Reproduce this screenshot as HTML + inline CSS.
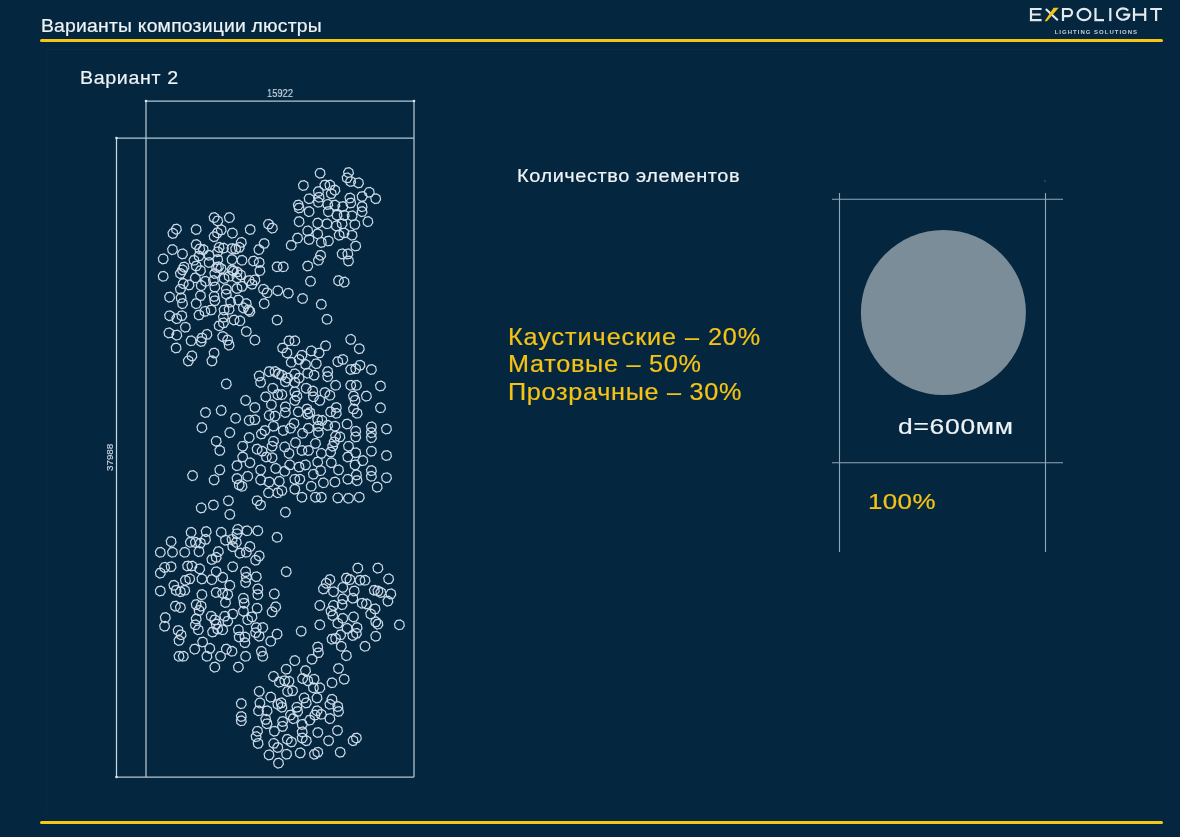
<!DOCTYPE html>
<html><head><meta charset="utf-8">
<style>
html,body{margin:0;padding:0;}
body{width:1180px;height:837px;background:#04263f;position:relative;overflow:hidden;font-family:"Liberation Sans",sans-serif;}
.t{position:absolute;white-space:nowrap;line-height:1;transform-origin:0 0;-webkit-text-stroke:0.2px currentColor;will-change:transform;}
.yl{position:absolute;background:#f5c815;height:3px;border-radius:1.5px;}
svg{position:absolute;left:0;top:0;}
</style></head>
<body>
<div class="yl" style="left:40px;top:38.5px;width:1123px;"></div>
<div class="yl" style="left:40px;top:820.5px;width:1123px;"></div>
<div style="position:absolute;left:46px;top:49px;width:1081px;height:763px;border:1px solid #092b45;border-right-color:#06283f;border-bottom:none;"></div>
<div class="t" id="title" style="left:41.16px;top:16.91px;font-size:18.3px;color:#eef3f6;font-weight:normal;letter-spacing:0.186px;transform:scaleX(1.0600);">Варианты композиции люстры</div>
<div class="t" id="var" style="left:80.33px;top:69.24px;font-size:18.5px;color:#eef3f6;font-weight:normal;letter-spacing:0.618px;transform:scaleX(1.0600);">Вариант 2</div>
<div class="t" id="kol" style="left:516.94px;top:166.59px;font-size:18.8px;color:#eef3f6;font-weight:normal;letter-spacing:0.562px;transform:scaleX(1.0600);">Количество элементов</div>
<div class="t" id="y1" style="left:507.96px;top:324.85px;font-size:23.8px;color:#f5c316;font-weight:normal;letter-spacing:0.873px;transform:scaleX(1.0600);">Каустические – 20%</div>
<div class="t" id="y2" style="left:507.96px;top:352.35px;font-size:23.8px;color:#f5c316;font-weight:normal;letter-spacing:0.687px;transform:scaleX(1.0600);">Матовые – 50%</div>
<div class="t" id="y3" style="left:507.96px;top:379.85px;font-size:23.8px;color:#f5c316;font-weight:normal;letter-spacing:0.674px;transform:scaleX(1.0600);">Прозрачные – 30%</div>
<div class="t" id="d600" style="left:897.52px;top:415.00px;font-size:22.8px;color:#eef3f6;font-weight:normal;letter-spacing:0.621px;transform:scaleX(1.1600);">d=600мм</div>
<div class="t" id="p100" style="left:867.86px;top:489.90px;font-size:22.8px;color:#f5c316;font-weight:normal;letter-spacing:0.298px;transform:scaleX(1.1400);">100%</div>
<div class="t" id="dim1" style="left:266.72px;top:87.73px;font-size:11.3px;color:#c5d3de;font-weight:normal;letter-spacing:0.000px;transform:scaleX(0.8259);">15922</div>
<svg class="logo" width="1180" height="40" viewBox="0 0 1180 40" style="z-index:2">
 <g stroke="#e2e8ee" stroke-width="2.2" fill="none" stroke-linecap="butt">
  <path d="M1041.6 9H1031V20.1H1041.6M1031 14.5H1040.6"/>
  <path d="M1045.8 9L1057.8 20.3"/>
  <path d="M1063 21.1V9H1068.4A3.65 3.6 0 0 1 1068.4 16.2H1063"/>
  <ellipse cx="1084" cy="14.55" rx="6.45" ry="5.6"/>
  <path d="M1095.5 8V20.1H1104"/>
  <path d="M1110.3 8V21.1"/>
  <path d="M1128.2 10.6A6.3 5.7 0 1 0 1129.2 15.6V14.6H1123.2"/>
  <path d="M1134 8V21.1M1145.2 8V21.1M1134 14.6H1145.2"/>
  <path d="M1150.2 9H1162M1156.1 9V21.1"/>
 </g>
 <path d="M1044.6 21.2L1053.6 7.8H1058.8L1046.9 21.2Z" fill="#f0c419"/>
 <text x="1054.7" y="34.2" font-family="Liberation Sans" font-weight="bold" font-size="6" fill="#c5d0da" textLength="82.4" lengthAdjust="spacing">LIGHTING SOLUTIONS</text>
</svg>
<div class="t logo" id="dim2" style="left:104.6px;top:471.3px;font-size:9.8px;color:#c5d3de;transform:rotate(-90deg);">37988</div>
<svg class="logo" width="1180" height="837" viewBox="0 0 1180 837" style="z-index:0">
 <g stroke="#b4c6d0" stroke-width="1.25" fill="none">
  <path d="M146 101H414M146 101V777M414 101V777M116.5 138H414M116.5 777H414"/>
  <path d="M116.5 138V777" stroke="#c8d8e2"/>
 </g>
 <g fill="#d8e4ec"><circle cx="116.5" cy="138" r="1.3"/><circle cx="116.5" cy="777" r="1.3"/><circle cx="146" cy="101" r="1.3"/><circle cx="414" cy="101" r="1.3"/></g>
 <g stroke="#93a8b6" stroke-width="1.1" fill="none">
  <path d="M832 199.3H1063M832 462.8H1063M839.5 193V552M1045.5 193V552"/>
 </g>
 <circle cx="943.4" cy="312.5" r="82.5" fill="#7b8d99"/>
 <circle cx="1045" cy="181" r="0.6" fill="#8fa6b8"/>
 <g stroke="#cbdae6" stroke-width="1.2" fill="none">
<path d="M219.0 218.6L216.9 221.8L213.1 222.5L209.9 220.4L209.2 216.6L211.3 213.4L215.1 212.7L218.3 214.8ZM222.6 221.9L220.5 225.1L216.7 225.8L213.5 223.7L212.8 219.9L214.9 216.7L218.7 216.0L221.9 218.1ZM234.3 218.6L232.2 221.8L228.4 222.5L225.2 220.4L224.5 216.6L226.6 213.4L230.4 212.7L233.6 214.8ZM181.3 230.1L179.2 233.3L175.4 234.0L172.2 231.9L171.5 228.1L173.6 224.9L177.4 224.2L180.6 226.3ZM177.8 234.4L175.7 237.6L171.9 238.3L168.7 236.2L168.0 232.4L170.1 229.2L173.9 228.5L177.1 230.6ZM201.1 230.5L199.0 233.7L195.2 234.4L192.0 232.3L191.3 228.5L193.4 225.3L197.2 224.6L200.4 226.7ZM226.1 230.9L224.0 234.1L220.2 234.8L217.0 232.7L216.3 228.9L218.4 225.7L222.2 225.0L225.4 227.1ZM222.3 233.8L220.2 237.0L216.4 237.7L213.2 235.6L212.5 231.8L214.6 228.6L218.4 227.9L221.6 230.0ZM219.0 237.7L216.9 240.9L213.1 241.6L209.9 239.5L209.2 235.7L211.3 232.5L215.1 231.8L218.3 233.9ZM237.3 234.1L235.2 237.3L231.4 238.0L228.2 235.9L227.5 232.1L229.6 228.9L233.4 228.2L236.6 230.3ZM255.1 230.5L253.0 233.7L249.2 234.4L246.0 232.3L245.3 228.5L247.4 225.3L251.2 224.6L254.4 226.7ZM273.4 225.2L271.3 228.4L267.5 229.1L264.3 227.0L263.6 223.2L265.7 220.0L269.5 219.3L272.7 221.4ZM277.3 229.1L275.2 232.3L271.4 233.0L268.2 230.9L267.5 227.1L269.6 223.9L273.4 223.2L276.6 225.3ZM269.1 244.5L267.0 247.7L263.2 248.4L260.0 246.3L259.3 242.5L261.4 239.3L265.2 238.6L268.4 240.7ZM263.8 250.6L261.7 253.8L257.9 254.5L254.7 252.4L254.0 248.6L256.1 245.4L259.9 244.7L263.1 246.8ZM246.2 243.4L244.1 246.6L240.3 247.3L237.1 245.2L236.4 241.4L238.5 238.2L242.3 237.5L245.5 239.6ZM244.1 248.4L242.0 251.6L238.2 252.3L235.0 250.2L234.3 246.4L236.4 243.2L240.2 242.5L243.4 244.6ZM177.4 250.6L175.3 253.8L171.5 254.5L168.3 252.4L167.6 248.6L169.7 245.4L173.5 244.7L176.7 246.8ZM187.4 254.9L185.3 258.1L181.5 258.8L178.3 256.7L177.6 252.9L179.7 249.7L183.5 249.0L186.7 251.1ZM168.1 259.9L166.0 263.1L162.2 263.8L159.0 261.7L158.3 257.9L160.4 254.7L164.2 254.0L167.4 256.1ZM201.1 245.6L199.0 248.8L195.2 249.5L192.0 247.4L191.3 243.6L193.4 240.4L197.2 239.7L200.4 241.8ZM204.6 249.9L202.5 253.1L198.7 253.8L195.5 251.7L194.8 247.9L196.9 244.7L200.7 244.0L203.9 246.1ZM208.2 250.6L206.1 253.8L202.3 254.5L199.1 252.4L198.4 248.6L200.5 245.4L204.3 244.7L207.5 246.8ZM224.0 248.4L221.9 251.6L218.1 252.3L214.9 250.2L214.2 246.4L216.3 243.2L220.1 242.5L223.3 244.6ZM228.3 249.1L226.2 252.3L222.4 253.0L219.2 250.9L218.5 247.1L220.6 243.9L224.4 243.2L227.6 245.3ZM236.9 249.6L234.8 252.8L231.0 253.5L227.8 251.4L227.1 247.6L229.2 244.4L233.0 243.7L236.2 245.8ZM240.5 249.9L238.4 253.1L234.6 253.8L231.4 251.7L230.7 247.9L232.8 244.7L236.6 244.0L239.8 246.1ZM222.6 252.7L220.5 255.9L216.7 256.6L213.5 254.5L212.8 250.7L214.9 247.5L218.7 246.8L221.9 248.9ZM214.0 256.3L211.9 259.5L208.1 260.2L204.9 258.1L204.2 254.3L206.3 251.1L210.1 250.4L213.3 252.5ZM203.9 257.0L201.8 260.2L198.0 260.9L194.8 258.8L194.1 255.0L196.2 251.8L200.0 251.1L203.2 253.2ZM198.9 261.3L196.8 264.5L193.0 265.2L189.8 263.1L189.1 259.3L191.2 256.1L195.0 255.4L198.2 257.5ZM214.0 263.5L211.9 266.7L208.1 267.4L204.9 265.3L204.2 261.5L206.3 258.3L210.1 257.6L213.3 259.7ZM222.6 260.6L220.5 263.8L216.7 264.5L213.5 262.4L212.8 258.6L214.9 255.4L218.7 254.7L221.9 256.8ZM236.9 260.6L234.8 263.8L231.0 264.5L227.8 262.4L227.1 258.6L229.2 255.4L233.0 254.7L236.2 256.8ZM246.9 261.3L244.8 264.5L241.0 265.2L237.8 263.1L237.1 259.3L239.2 256.1L243.0 255.4L246.2 257.5ZM258.4 262.0L256.3 265.2L252.5 265.9L249.3 263.8L248.6 260.0L250.7 256.8L254.5 256.1L257.7 258.2ZM264.1 263.5L262.0 266.7L258.2 267.4L255.0 265.3L254.3 261.5L256.4 258.3L260.2 257.6L263.4 259.7ZM188.9 268.0L186.8 271.2L183.0 271.9L179.8 269.8L179.1 266.0L181.2 262.8L185.0 262.1L188.2 264.2ZM201.1 267.0L199.0 270.2L195.2 270.9L192.0 268.8L191.3 265.0L193.4 261.8L197.2 261.1L200.4 263.2ZM223.3 267.8L221.2 271.0L217.4 271.7L214.2 269.6L213.5 265.8L215.6 262.6L219.4 261.9L222.6 264.0ZM335.9 612.0L333.8 615.2L330.0 615.9L326.8 613.8L326.1 610.0L328.2 606.8L332.0 606.1L335.2 608.2ZM337.6 616.5L335.5 619.7L331.7 620.4L328.5 618.3L327.8 614.5L329.9 611.3L333.7 610.6L336.9 612.7ZM347.7 619.3L345.6 622.5L341.8 623.2L338.6 621.1L337.9 617.3L340.0 614.1L343.8 613.4L347.0 615.5ZM358.4 617.9L356.3 621.1L352.5 621.8L349.3 619.7L348.6 615.9L350.7 612.7L354.5 612.0L357.7 614.1ZM375.6 615.0L373.5 618.2L369.7 618.9L366.5 616.8L365.8 613.0L367.9 609.8L371.7 609.1L374.9 611.2ZM380.6 622.9L378.5 626.1L374.7 626.8L371.5 624.7L370.8 620.9L372.9 617.7L376.7 617.0L379.9 619.1ZM382.8 625.1L380.7 628.3L376.9 629.0L373.7 626.9L373.0 623.1L375.1 619.9L378.9 619.2L382.1 621.3ZM404.3 625.8L402.2 629.0L398.4 629.7L395.2 627.6L394.5 623.8L396.6 620.6L400.4 619.9L403.6 622.0ZM324.7 625.8L322.6 629.0L318.8 629.7L315.6 627.6L314.9 623.8L317.0 620.6L320.8 619.9L324.0 622.0ZM342.7 624.3L340.6 627.5L336.8 628.2L333.6 626.1L332.9 622.3L335.0 619.1L338.8 618.4L342.0 620.5ZM306.1 632.2L304.0 635.4L300.2 636.1L297.0 634.0L296.3 630.2L298.4 627.0L302.2 626.3L305.4 628.4ZM352.0 629.4L349.9 632.6L346.1 633.3L342.9 631.2L342.2 627.4L344.3 624.2L348.1 623.5L351.3 625.6ZM362.0 628.6L359.9 631.8L356.1 632.5L352.9 630.4L352.2 626.6L354.3 623.4L358.1 622.7L361.3 624.8ZM361.3 634.4L359.2 637.6L355.4 638.3L352.2 636.2L351.5 632.4L353.6 629.2L357.4 628.5L360.6 630.6ZM357.7 636.5L355.6 639.7L351.8 640.4L348.6 638.3L347.9 634.5L350.0 631.3L353.8 630.6L357.0 632.7ZM345.5 635.8L343.4 639.0L339.6 639.7L336.4 637.6L335.7 633.8L337.8 630.6L341.6 629.9L344.8 632.0ZM336.9 640.1L334.8 643.3L331.0 644.0L327.8 641.9L327.1 638.1L329.2 634.9L333.0 634.2L336.2 636.3ZM340.5 639.4L338.4 642.6L334.6 643.3L331.4 641.2L330.7 637.4L332.8 634.2L336.6 633.5L339.8 635.6ZM380.6 637.2L378.5 640.4L374.7 641.1L371.5 639.0L370.8 635.2L372.9 632.0L376.7 631.3L379.9 633.4ZM369.9 647.3L367.8 650.5L364.0 651.2L360.8 649.1L360.1 645.3L362.2 642.1L366.0 641.4L369.2 643.5ZM346.2 647.3L344.1 650.5L340.3 651.2L337.1 649.1L336.4 645.3L338.5 642.1L342.3 641.4L345.5 643.5ZM322.6 648.0L320.5 651.2L316.7 651.9L313.5 649.8L312.8 646.0L314.9 642.8L318.7 642.1L321.9 644.2ZM323.3 653.7L321.2 656.9L317.4 657.6L314.2 655.5L313.5 651.7L315.6 648.5L319.4 647.8L322.6 649.9ZM316.9 660.2L314.8 663.4L311.0 664.1L307.8 662.0L307.1 658.2L309.2 655.0L313.0 654.3L316.2 656.4ZM351.3 656.6L349.2 659.8L345.4 660.5L342.2 658.4L341.5 654.6L343.6 651.4L347.4 650.7L350.6 652.8ZM299.7 661.6L297.6 664.8L293.8 665.5L290.6 663.4L289.9 659.6L292.0 656.4L295.8 655.7L299.0 657.8ZM291.1 670.2L289.0 673.4L285.2 674.1L282.0 672.0L281.3 668.2L283.4 665.0L287.2 664.3L290.4 666.4ZM310.4 671.6L308.3 674.8L304.5 675.5L301.3 673.4L300.6 669.6L302.7 666.4L306.5 665.7L309.7 667.8ZM343.4 669.5L341.3 672.7L337.5 673.4L334.3 671.3L333.6 667.5L335.7 664.3L339.5 663.6L342.7 665.7ZM349.1 680.2L347.0 683.4L343.2 684.1L340.0 682.0L339.3 678.2L341.4 675.0L345.2 674.3L348.4 676.4ZM336.9 683.8L334.8 687.0L331.0 687.7L327.8 685.6L327.1 681.8L329.2 678.6L333.0 677.9L336.2 680.0ZM289.6 681.7L287.5 684.9L283.7 685.6L280.5 683.5L279.8 679.7L281.9 676.5L285.7 675.8L288.9 677.9ZM293.9 682.4L291.8 685.6L288.0 686.3L284.8 684.2L284.1 680.4L286.2 677.2L290.0 676.5L293.2 678.6ZM307.5 679.5L305.4 682.7L301.6 683.4L298.4 681.3L297.7 677.5L299.8 674.3L303.6 673.6L306.8 675.7ZM312.6 681.7L310.5 684.9L306.7 685.6L303.5 683.5L302.8 679.7L304.9 676.5L308.7 675.8L311.9 677.9ZM319.0 680.2L316.9 683.4L313.1 684.1L309.9 682.0L309.2 678.2L311.3 675.0L315.1 674.3L318.3 676.4ZM318.3 688.8L316.2 692.0L312.4 692.7L309.2 690.6L308.5 686.8L310.6 683.6L314.4 682.9L317.6 685.0ZM324.7 688.8L322.6 692.0L318.8 692.7L315.6 690.6L314.9 686.8L317.0 683.6L320.8 682.9L324.0 685.0ZM292.5 692.4L290.4 695.6L286.6 696.3L283.4 694.2L282.7 690.4L284.8 687.2L288.6 686.5L291.8 688.6ZM297.5 691.7L295.4 694.9L291.6 695.6L288.4 693.5L287.7 689.7L289.8 686.5L293.6 685.8L296.8 687.9ZM309.0 698.9L306.9 702.1L303.1 702.8L299.9 700.7L299.2 696.9L301.3 693.7L305.1 693.0L308.3 695.1ZM311.1 703.9L309.0 707.1L305.2 707.8L302.0 705.7L301.3 701.9L303.4 698.7L307.2 698.0L310.4 700.1ZM321.9 698.9L319.8 702.1L316.0 702.8L312.8 700.7L312.1 696.9L314.2 693.7L318.0 693.0L321.2 695.1ZM336.9 700.3L334.8 703.5L331.0 704.2L327.8 702.1L327.1 698.3L329.2 695.1L333.0 694.4L336.2 696.5ZM334.8 705.3L332.7 708.5L328.9 709.2L325.7 707.1L325.0 703.3L327.1 700.1L330.9 699.4L334.1 701.5ZM342.7 707.5L340.6 710.7L336.8 711.4L333.6 709.3L332.9 705.5L335.0 702.3L338.8 701.6L342.0 703.7ZM343.4 712.5L341.3 715.7L337.5 716.4L334.3 714.3L333.6 710.5L335.7 707.3L339.5 706.6L342.7 708.7ZM286.0 703.9L283.9 707.1L280.1 707.8L276.9 705.7L276.2 701.9L278.3 698.7L282.1 698.0L285.3 700.1ZM286.8 708.2L284.7 711.4L280.9 712.1L277.7 710.0L277.0 706.2L279.1 703.0L282.9 702.3L286.1 704.4ZM301.8 708.2L299.7 711.4L295.9 712.1L292.7 710.0L292.0 706.2L294.1 703.0L297.9 702.3L301.1 704.4ZM302.5 712.5L300.4 715.7L296.6 716.4L293.4 714.3L292.7 710.5L294.8 707.3L298.6 706.6L301.8 708.7ZM321.9 711.8L319.8 715.0L316.0 715.7L312.8 713.6L312.1 709.8L314.2 706.6L318.0 705.9L321.2 708.0ZM326.2 715.3L324.1 718.5L320.3 719.2L317.1 717.1L316.4 713.3L318.5 710.1L322.3 709.4L325.5 711.5ZM319.7 716.1L317.6 719.3L313.8 720.0L310.6 717.9L309.9 714.1L312.0 710.9L315.8 710.2L319.0 712.3ZM295.4 716.1L293.3 719.3L289.5 720.0L286.3 717.9L285.6 714.1L287.7 710.9L291.5 710.2L294.7 712.3ZM298.2 719.6L296.1 722.8L292.3 723.5L289.1 721.4L288.4 717.6L290.5 714.4L294.3 713.7L297.5 715.8ZM334.8 719.6L332.7 722.8L328.9 723.5L325.7 721.4L325.0 717.6L327.1 714.4L330.9 713.7L334.1 715.8ZM314.7 721.1L312.6 724.3L308.8 725.0L305.6 722.9L304.9 719.1L307.0 715.9L310.8 715.2L314.0 717.3ZM287.5 722.5L285.4 725.7L281.6 726.4L278.4 724.3L277.7 720.5L279.8 717.3L283.6 716.6L286.8 718.7ZM271.9 724.7L269.8 727.9L266.0 728.6L262.8 726.5L262.1 722.7L264.2 719.5L268.0 718.8L271.2 720.9ZM287.4 727.4L285.3 730.6L281.5 731.3L278.3 729.2L277.6 725.4L279.7 722.2L283.5 721.5L286.7 723.6ZM279.3 732.2L277.2 735.4L273.4 736.1L270.2 734.0L269.5 730.2L271.6 727.0L275.4 726.3L278.6 728.4ZM262.4 732.2L260.3 735.4L256.5 736.1L253.3 734.0L252.6 730.2L254.7 727.0L258.5 726.3L261.7 728.4ZM261.0 737.6L258.9 740.8L255.1 741.5L251.9 739.4L251.2 735.6L253.3 732.4L257.1 731.7L260.3 733.8ZM263.0 744.4L260.9 747.6L257.1 748.3L253.9 746.2L253.2 742.4L255.3 739.2L259.1 738.5L262.3 740.6ZM307.1 725.4L305.0 728.6L301.2 729.3L298.0 727.2L297.3 723.4L299.4 720.2L303.2 719.5L306.4 721.6ZM307.1 732.9L305.0 736.1L301.2 736.8L298.0 734.7L297.3 730.9L299.4 727.7L303.2 727.0L306.4 729.1ZM307.1 739.0L305.0 742.2L301.2 742.9L298.0 740.8L297.3 737.0L299.4 733.8L303.2 733.1L306.4 735.2ZM311.2 741.7L309.1 744.9L305.3 745.6L302.1 743.5L301.4 739.7L303.5 736.5L307.3 735.8L310.5 737.9ZM292.2 740.3L290.1 743.5L286.3 744.2L283.1 742.1L282.4 738.3L284.5 735.1L288.3 734.4L291.5 736.5ZM296.3 743.0L294.2 746.2L290.4 746.9L287.2 744.8L286.5 741.0L288.6 737.8L292.4 737.1L295.6 739.2ZM322.7 733.5L320.6 736.7L316.8 737.4L313.6 735.3L312.9 731.5L315.0 728.3L318.8 727.6L322.0 729.7ZM342.4 731.5L340.3 734.7L336.5 735.4L333.3 733.3L332.6 729.5L334.7 726.3L338.5 725.6L341.7 727.7ZM333.5 741.7L331.4 744.9L327.6 745.6L324.4 743.5L323.7 739.7L325.8 736.5L329.6 735.8L332.8 737.9ZM358.0 741.7L355.9 744.9L352.1 745.6L348.9 743.5L348.2 739.7L350.3 736.5L354.1 735.8L357.3 737.9ZM361.3 739.0L359.2 742.2L355.4 742.9L352.2 740.8L351.5 737.0L353.6 733.8L357.4 733.1L360.6 735.2ZM278.6 744.4L276.5 747.6L272.7 748.3L269.5 746.2L268.8 742.4L270.9 739.2L274.7 738.5L277.9 740.6ZM282.7 748.5L280.6 751.7L276.8 752.4L273.6 750.3L272.9 746.5L275.0 743.3L278.8 742.6L282.0 744.7ZM273.9 755.9L271.8 759.1L268.0 759.8L264.8 757.7L264.1 753.9L266.2 750.7L270.0 750.0L273.2 752.1ZM291.5 755.2L289.4 758.4L285.6 759.1L282.4 757.0L281.7 753.2L283.8 750.0L287.6 749.3L290.8 751.4ZM305.1 753.9L303.0 757.1L299.2 757.8L296.0 755.7L295.3 751.9L297.4 748.7L301.2 748.0L304.4 750.1ZM319.3 755.2L317.2 758.4L313.4 759.1L310.2 757.0L309.5 753.2L311.6 750.0L315.4 749.3L318.6 751.4ZM322.7 753.2L320.6 756.4L316.8 757.1L313.6 755.0L312.9 751.2L315.0 748.0L318.8 747.3L322.0 749.4ZM345.1 753.2L343.0 756.4L339.2 757.1L336.0 755.0L335.3 751.2L337.4 748.0L341.2 747.3L344.4 749.4ZM283.4 764.1L281.3 767.3L277.5 768.0L274.3 765.9L273.6 762.1L275.7 758.9L279.5 758.2L282.7 760.3ZM221.4 268.5L219.3 271.7L215.5 272.4L212.3 270.3L211.6 266.5L213.7 263.3L217.5 262.6L220.7 264.7ZM238.4 272.0L236.3 275.2L232.5 275.9L229.3 273.8L228.6 270.0L230.7 266.8L234.5 266.1L237.7 268.2ZM225.9 269.5L223.8 272.7L220.0 273.4L216.8 271.3L216.1 267.5L218.2 264.3L222.0 263.6L225.2 265.7ZM348.9 234.0L346.8 237.2L343.0 237.9L339.8 235.8L339.1 232.0L341.2 228.8L345.0 228.1L348.2 230.2ZM325.0 174.2L322.9 177.4L319.1 178.1L315.9 176.0L315.2 172.2L317.3 169.0L321.1 168.3L324.3 170.4ZM353.4 173.6L351.3 176.8L347.5 177.5L344.3 175.4L343.6 171.6L345.7 168.4L349.5 167.7L352.7 169.8ZM352.0 178.9L349.9 182.1L346.1 182.8L342.9 180.7L342.2 176.9L344.3 173.7L348.1 173.0L351.3 175.1ZM355.6 182.5L353.5 185.7L349.7 186.4L346.5 184.3L345.8 180.5L347.9 177.3L351.7 176.6L354.9 178.7ZM363.4 183.9L361.3 187.1L357.5 187.8L354.3 185.7L353.6 181.9L355.7 178.7L359.5 178.0L362.7 180.1ZM308.3 186.5L306.2 189.7L302.4 190.4L299.2 188.3L298.5 184.5L300.6 181.3L304.4 180.6L307.6 182.7ZM329.8 186.1L327.7 189.3L323.9 190.0L320.7 187.9L320.0 184.1L322.1 180.9L325.9 180.2L329.1 182.3ZM334.8 186.1L332.7 189.3L328.9 190.0L325.7 187.9L325.0 184.1L327.1 180.9L330.9 180.2L334.1 182.3ZM339.8 191.1L337.7 194.3L333.9 195.0L330.7 192.9L330.0 189.1L332.1 185.9L335.9 185.2L339.1 187.3ZM323.3 192.5L321.2 195.7L317.4 196.4L314.2 194.3L313.5 190.5L315.6 187.3L319.4 186.6L322.6 188.7ZM336.2 194.7L334.1 197.9L330.3 198.6L327.1 196.5L326.4 192.7L328.5 189.5L332.3 188.8L335.5 190.9ZM374.2 193.2L372.1 196.4L368.3 197.1L365.1 195.0L364.4 191.2L366.5 188.0L370.3 187.3L373.5 189.4ZM380.6 199.7L378.5 202.9L374.7 203.6L371.5 201.5L370.8 197.7L372.9 194.5L376.7 193.8L379.9 195.9ZM354.8 199.0L352.7 202.2L348.9 202.9L345.7 200.8L345.0 197.0L347.1 193.8L350.9 193.1L354.1 195.2ZM367.0 197.5L364.9 200.7L361.1 201.4L357.9 199.3L357.2 195.5L359.3 192.3L363.1 191.6L366.3 193.7ZM314.0 199.7L311.9 202.9L308.1 203.6L304.9 201.5L304.2 197.7L306.3 194.5L310.1 193.8L313.3 195.9ZM324.0 198.3L321.9 201.5L318.1 202.2L314.9 200.1L314.2 196.3L316.3 193.1L320.1 192.4L323.3 194.5ZM323.3 203.3L321.2 206.5L317.4 207.2L314.2 205.1L313.5 201.3L315.6 198.1L319.4 197.4L322.6 199.5ZM303.2 206.1L301.1 209.3L297.3 210.0L294.1 207.9L293.4 204.1L295.5 200.9L299.3 200.2L302.5 202.3ZM304.0 209.0L301.9 212.2L298.1 212.9L294.9 210.8L294.2 207.0L296.3 203.8L300.1 203.1L303.3 205.2ZM314.0 212.6L311.9 215.8L308.1 216.5L304.9 214.4L304.2 210.6L306.3 207.4L310.1 206.7L313.3 208.8ZM332.6 205.4L330.5 208.6L326.7 209.3L323.5 207.2L322.8 203.4L324.9 200.2L328.7 199.5L331.9 201.6ZM339.8 206.1L337.7 209.3L333.9 210.0L330.7 207.9L330.0 204.1L332.1 200.9L335.9 200.2L339.1 202.3ZM347.7 207.6L345.6 210.8L341.8 211.5L338.6 209.4L337.9 205.6L340.0 202.4L343.8 201.7L347.0 203.8ZM355.6 204.0L353.5 207.2L349.7 207.9L346.5 205.8L345.8 202.0L347.9 198.8L351.7 198.1L354.9 200.2ZM367.0 207.6L364.9 210.8L361.1 211.5L357.9 209.4L357.2 205.6L359.3 202.4L363.1 201.7L366.3 203.8ZM367.0 212.6L364.9 215.8L361.1 216.5L357.9 214.4L357.2 210.6L359.3 207.4L363.1 206.7L366.3 208.8ZM333.3 212.6L331.2 215.8L327.4 216.5L324.2 214.4L323.5 210.6L325.6 207.4L329.4 206.7L332.6 208.8ZM341.9 216.2L339.8 219.4L336.0 220.1L332.8 218.0L332.1 214.2L334.2 211.0L338.0 210.3L341.2 212.4ZM349.1 216.2L347.0 219.4L343.2 220.1L340.0 218.0L339.3 214.2L341.4 211.0L345.2 210.3L348.4 212.4ZM357.0 216.9L354.9 220.1L351.1 220.8L347.9 218.7L347.2 214.9L349.3 211.7L353.1 211.0L356.3 213.1ZM304.0 222.6L301.9 225.8L298.1 226.5L294.9 224.4L294.2 220.6L296.3 217.4L300.1 216.7L303.3 218.8ZM322.6 224.1L320.5 227.3L316.7 228.0L313.5 225.9L312.8 222.1L314.9 218.9L318.7 218.2L321.9 220.3ZM331.9 224.8L329.8 228.0L326.0 228.7L322.8 226.6L322.1 222.8L324.2 219.6L328.0 218.9L331.2 221.0ZM341.2 226.9L339.1 230.1L335.3 230.8L332.1 228.7L331.4 224.9L333.5 221.7L337.3 221.0L340.5 223.1ZM347.0 224.8L344.9 228.0L341.1 228.7L337.9 226.6L337.2 222.8L339.3 219.6L343.1 218.9L346.3 221.0ZM359.8 225.5L357.7 228.7L353.9 229.4L350.7 227.3L350.0 223.5L352.1 220.3L355.9 219.6L359.1 221.7ZM372.8 222.6L370.7 225.8L366.9 226.5L363.7 224.4L363.0 220.6L365.1 217.4L368.9 216.7L372.1 218.8ZM312.6 231.9L310.5 235.1L306.7 235.8L303.5 233.7L302.8 229.9L304.9 226.7L308.7 226.0L311.9 228.1ZM322.6 234.8L320.5 238.0L316.7 238.7L313.5 236.6L312.8 232.8L314.9 229.6L318.7 228.9L321.9 231.0ZM344.1 236.2L342.0 239.4L338.2 240.1L335.0 238.0L334.3 234.2L336.4 231.0L340.2 230.3L343.4 232.4ZM357.0 236.2L354.9 239.4L351.1 240.1L347.9 238.0L347.2 234.2L349.3 231.0L353.1 230.3L356.3 232.4ZM302.5 239.1L300.4 242.3L296.6 243.0L293.4 240.9L292.7 237.1L294.8 233.9L298.6 233.2L301.8 235.3ZM314.0 240.5L311.9 243.7L308.1 244.4L304.9 242.3L304.2 238.5L306.3 235.3L310.1 234.6L313.3 236.7ZM326.2 243.4L324.1 246.6L320.3 247.3L317.1 245.2L316.4 241.4L318.5 238.2L322.3 237.5L325.5 239.6ZM333.3 242.0L331.2 245.2L327.4 245.9L324.2 243.8L323.5 240.0L325.6 236.8L329.4 236.1L332.6 238.2ZM296.1 246.3L294.0 249.5L290.2 250.2L287.0 248.1L286.3 244.3L288.4 241.1L292.2 240.4L295.4 242.5ZM360.6 247.0L358.5 250.2L354.7 250.9L351.5 248.8L350.8 245.0L352.9 241.8L356.7 241.1L359.9 243.2ZM325.5 256.3L323.4 259.5L319.6 260.2L316.4 258.1L315.7 254.3L317.8 251.1L321.6 250.4L324.8 252.5ZM323.3 261.3L321.2 264.5L317.4 265.2L314.2 263.1L313.5 259.3L315.6 256.1L319.4 255.4L322.6 257.5ZM347.0 254.9L344.9 258.1L341.1 258.8L337.9 256.7L337.2 252.9L339.3 249.7L343.1 249.0L346.3 251.1ZM352.7 254.9L350.6 258.1L346.8 258.8L343.6 256.7L342.9 252.9L345.0 249.7L348.8 249.0L352.0 251.1ZM353.4 262.0L351.3 265.2L347.5 265.9L344.3 263.8L343.6 260.0L345.7 256.8L349.5 256.1L352.7 258.2ZM312.6 267.0L310.5 270.2L306.7 270.9L303.5 268.8L302.8 265.0L304.9 261.8L308.7 261.1L311.9 263.2ZM282.0 267.8L279.9 271.0L276.1 271.7L272.9 269.6L272.2 265.8L274.3 262.6L278.1 261.9L281.3 264.0ZM288.2 267.8L286.1 271.0L282.3 271.7L279.1 269.6L278.4 265.8L280.5 262.6L284.3 261.9L287.5 264.0ZM168.1 277.3L166.0 280.5L162.2 281.2L159.0 279.1L158.3 275.3L160.4 272.1L164.2 271.4L167.4 273.5ZM187.4 270.9L185.3 274.1L181.5 274.8L178.3 272.7L177.6 268.9L179.7 265.7L183.5 265.0L186.7 267.1ZM185.3 274.5L183.2 277.7L179.4 278.4L176.2 276.3L175.5 272.5L177.6 269.3L181.4 268.6L184.6 270.7ZM205.4 271.6L203.3 274.8L199.5 275.5L196.3 273.4L195.6 269.6L197.7 266.4L201.5 265.7L204.7 267.8ZM219.7 274.5L217.6 277.7L213.8 278.4L210.6 276.3L209.9 272.5L212.0 269.3L215.8 268.6L219.0 270.7ZM236.9 270.9L234.8 274.1L231.0 274.8L227.8 272.7L227.1 268.9L229.2 265.7L233.0 265.0L236.2 267.1ZM241.9 273.0L239.8 276.2L236.0 276.9L232.8 274.8L232.1 271.0L234.2 267.8L238.0 267.1L241.2 269.2ZM245.5 275.9L243.4 279.1L239.6 279.8L236.4 277.7L235.7 273.9L237.8 270.7L241.6 270.0L244.8 272.1ZM264.8 271.6L262.7 274.8L258.9 275.5L255.7 273.4L255.0 269.6L257.1 266.4L260.9 265.7L264.1 267.8ZM200.3 278.8L198.2 282.0L194.4 282.7L191.2 280.6L190.5 276.8L192.6 273.6L196.4 272.9L199.6 275.0ZM210.4 282.3L208.3 285.5L204.5 286.2L201.3 284.1L200.6 280.3L202.7 277.1L206.5 276.4L209.7 278.5ZM218.3 281.6L216.2 284.8L212.4 285.5L209.2 283.4L208.5 279.6L210.6 276.4L214.4 275.7L217.6 277.8ZM229.0 279.5L226.9 282.7L223.1 283.4L219.9 281.3L219.2 277.5L221.3 274.3L225.1 273.6L228.3 275.7ZM234.0 277.3L231.9 280.5L228.1 281.2L224.9 279.1L224.2 275.3L226.3 272.1L230.1 271.4L233.3 273.5ZM241.9 278.8L239.8 282.0L236.0 282.7L232.8 280.6L232.1 276.8L234.2 273.6L238.0 272.9L241.2 275.0ZM254.1 281.6L252.0 284.8L248.2 285.5L245.0 283.4L244.3 279.6L246.4 276.4L250.2 275.7L253.4 277.8ZM259.8 280.9L257.7 284.1L253.9 284.8L250.7 282.7L250.0 278.9L252.1 275.7L255.9 275.0L259.1 277.1ZM188.2 284.5L186.1 287.7L182.3 288.4L179.1 286.3L178.4 282.5L180.5 279.3L184.3 278.6L187.5 280.7ZM193.9 285.9L191.8 289.1L188.0 289.8L184.8 287.7L184.1 283.9L186.2 280.7L190.0 280.0L193.2 282.1ZM185.3 290.2L183.2 293.4L179.4 294.1L176.2 292.0L175.5 288.2L177.6 285.0L181.4 284.3L184.6 286.4ZM206.1 286.6L204.0 289.8L200.2 290.5L197.0 288.4L196.3 284.6L198.4 281.4L202.2 280.7L205.4 282.8ZM219.7 288.1L217.6 291.3L213.8 292.0L210.6 289.9L209.9 286.1L212.0 282.9L215.8 282.2L219.0 284.3ZM231.2 290.2L229.1 293.4L225.3 294.1L222.1 292.0L221.4 288.2L223.5 285.0L227.3 284.3L230.5 286.4ZM241.9 289.5L239.8 292.7L236.0 293.4L232.8 291.3L232.1 287.5L234.2 284.3L238.0 283.6L241.2 285.7ZM246.9 287.4L244.8 290.6L241.0 291.3L237.8 289.2L237.1 285.4L239.2 282.2L243.0 281.5L246.2 283.6ZM256.9 285.2L254.8 288.4L251.0 289.1L247.8 287.0L247.1 283.2L249.2 280.0L253.0 279.3L256.2 281.4ZM268.4 290.2L266.3 293.4L262.5 294.1L259.3 292.0L258.6 288.2L260.7 285.0L264.5 284.3L267.7 286.4ZM272.0 293.8L269.9 297.0L266.1 297.7L262.9 295.6L262.2 291.8L264.3 288.6L268.1 287.9L271.3 290.0ZM282.7 291.7L280.6 294.9L276.8 295.6L273.6 293.5L272.9 289.7L275.0 286.5L278.8 285.8L282.0 287.9ZM174.5 298.1L172.4 301.3L168.6 302.0L165.4 299.9L164.7 296.1L166.8 292.9L170.6 292.2L173.8 294.3ZM186.0 298.8L183.9 302.0L180.1 302.7L176.9 300.6L176.2 296.8L178.3 293.6L182.1 292.9L185.3 295.0ZM187.4 304.6L185.3 307.8L181.5 308.5L178.3 306.4L177.6 302.6L179.7 299.4L183.5 298.7L186.7 300.8ZM205.4 296.7L203.3 299.9L199.5 300.6L196.3 298.5L195.6 294.7L197.7 291.5L201.5 290.8L204.7 292.9ZM219.0 297.4L216.9 300.6L213.1 301.3L209.9 299.2L209.2 295.4L211.3 292.2L215.1 291.5L218.3 293.6ZM219.7 301.7L217.6 304.9L213.8 305.6L210.6 303.5L209.9 299.7L212.0 296.5L215.8 295.8L219.0 297.9ZM231.2 295.2L229.1 298.4L225.3 299.1L222.1 297.0L221.4 293.2L223.5 290.0L227.3 289.3L230.5 291.4ZM235.5 303.1L233.4 306.3L229.6 307.0L226.4 304.9L225.7 301.1L227.8 297.9L231.6 297.2L234.8 299.3ZM243.3 301.0L241.2 304.2L237.4 304.9L234.2 302.8L233.5 299.0L235.6 295.8L239.4 295.1L242.6 297.2ZM251.2 304.6L249.1 307.8L245.3 308.5L242.1 306.4L241.4 302.6L243.5 299.4L247.3 298.7L250.5 300.8ZM201.1 304.6L199.0 307.8L195.2 308.5L192.0 306.4L191.3 302.6L193.4 299.4L197.2 298.7L200.4 300.8ZM269.1 304.6L267.0 307.8L263.2 308.5L260.0 306.4L259.3 302.6L261.4 299.4L265.2 298.7L268.4 300.8ZM253.4 311.0L251.3 314.2L247.5 314.9L244.3 312.8L243.6 309.0L245.7 305.8L249.5 305.1L252.7 307.2ZM254.8 312.4L252.7 315.6L248.9 316.3L245.7 314.2L245.0 310.4L247.1 307.2L250.9 306.5L254.1 308.6ZM248.3 308.9L246.2 312.1L242.4 312.8L239.2 310.7L238.5 306.9L240.6 303.7L244.4 303.0L247.6 305.1ZM229.0 311.0L226.9 314.2L223.1 314.9L219.9 312.8L219.2 309.0L221.3 305.8L225.1 305.1L228.3 307.2ZM234.0 310.3L231.9 313.5L228.1 314.2L224.9 312.1L224.2 308.3L226.3 305.1L230.1 304.4L233.3 306.5ZM216.1 311.0L214.0 314.2L210.2 314.9L207.0 312.8L206.3 309.0L208.4 305.8L212.2 305.1L215.4 307.2ZM209.7 312.4L207.6 315.6L203.8 316.3L200.6 314.2L199.9 310.4L202.0 307.2L205.8 306.5L209.0 308.6ZM203.9 316.0L201.8 319.2L198.0 319.9L194.8 317.8L194.1 314.0L196.2 310.8L200.0 310.1L203.2 312.2ZM174.5 316.7L172.4 319.9L168.6 320.6L165.4 318.5L164.7 314.7L166.8 311.5L170.6 310.8L173.8 312.9ZM186.7 316.7L184.6 319.9L180.8 320.6L177.6 318.5L176.9 314.7L179.0 311.5L182.8 310.8L186.0 312.9ZM181.7 319.6L179.6 322.8L175.8 323.5L172.6 321.4L171.9 317.6L174.0 314.4L177.8 313.7L181.0 315.8ZM228.3 318.2L226.2 321.4L222.4 322.1L219.2 320.0L218.5 316.2L220.6 313.0L224.4 312.3L227.6 314.4ZM239.0 321.0L236.9 324.2L233.1 324.9L229.9 322.8L229.2 319.0L231.3 315.8L235.1 315.1L238.3 317.2ZM244.8 321.8L242.7 325.0L238.9 325.7L235.7 323.6L235.0 319.8L237.1 316.6L240.9 315.9L244.1 318.0ZM282.0 321.0L279.9 324.2L276.1 324.9L272.9 322.8L272.2 319.0L274.3 315.8L278.1 315.1L281.3 317.2ZM228.3 323.9L226.2 327.1L222.4 327.8L219.2 325.7L218.5 321.9L220.6 318.7L224.4 318.0L227.6 320.1ZM224.0 326.8L221.9 330.0L218.1 330.7L214.9 328.6L214.2 324.8L216.3 321.6L220.1 320.9L223.3 323.0ZM190.3 328.2L188.2 331.4L184.4 332.1L181.2 330.0L180.5 326.2L182.6 323.0L186.4 322.3L189.6 324.4ZM251.2 332.5L249.1 335.7L245.3 336.4L242.1 334.3L241.4 330.5L243.5 327.3L247.3 326.6L250.5 328.7ZM173.8 333.9L171.7 337.1L167.9 337.8L164.7 335.7L164.0 331.9L166.1 328.7L169.9 328.0L173.1 330.1ZM181.7 336.1L179.6 339.3L175.8 340.0L172.6 337.9L171.9 334.1L174.0 330.9L177.8 330.2L181.0 332.3ZM211.8 335.4L209.7 338.6L205.9 339.3L202.7 337.2L202.0 333.4L204.1 330.2L207.9 329.5L211.1 331.6ZM206.8 339.0L204.7 342.2L200.9 342.9L197.7 340.8L197.0 337.0L199.1 333.8L202.9 333.1L206.1 335.2ZM206.1 342.5L204.0 345.7L200.2 346.4L197.0 344.3L196.3 340.5L198.4 337.3L202.2 336.6L205.4 338.7ZM196.0 341.8L193.9 345.0L190.1 345.7L186.9 343.6L186.2 339.8L188.3 336.6L192.1 335.9L195.3 338.0ZM227.6 337.5L225.5 340.7L221.7 341.4L218.5 339.3L217.8 335.5L219.9 332.3L223.7 331.6L226.9 333.7ZM232.6 341.1L230.5 344.3L226.7 345.0L223.5 342.9L222.8 339.1L224.9 335.9L228.7 335.2L231.9 337.3ZM234.0 346.1L231.9 349.3L228.1 350.0L224.9 347.9L224.2 344.1L226.3 340.9L230.1 340.2L233.3 342.3ZM259.8 341.1L257.7 344.3L253.9 345.0L250.7 342.9L250.0 339.1L252.1 335.9L255.9 335.2L259.1 337.3ZM181.0 349.0L178.9 352.2L175.1 352.9L171.9 350.8L171.2 347.0L173.3 343.8L177.1 343.1L180.3 345.2ZM196.8 356.9L194.7 360.1L190.9 360.8L187.7 358.7L187.0 354.9L189.1 351.7L192.9 351.0L196.1 353.1ZM193.2 361.9L191.1 365.1L187.3 365.8L184.1 363.7L183.4 359.9L185.5 356.7L189.3 356.0L192.5 358.1ZM219.0 354.0L216.9 357.2L213.1 357.9L209.9 355.8L209.2 352.0L211.3 348.8L215.1 348.1L218.3 350.2ZM216.8 361.9L214.7 365.1L210.9 365.8L207.7 363.7L207.0 359.9L209.1 356.7L212.9 356.0L216.1 358.1ZM264.1 376.9L262.0 380.1L258.2 380.8L255.0 378.7L254.3 374.9L256.4 371.7L260.2 371.0L263.4 373.1ZM274.1 372.6L272.0 375.8L268.2 376.5L265.0 374.4L264.3 370.6L266.4 367.4L270.2 366.7L273.4 368.8ZM279.9 372.6L277.8 375.8L274.0 376.5L270.8 374.4L270.1 370.6L272.2 367.4L276.0 366.7L279.2 368.8ZM283.5 374.8L281.4 378.0L277.6 378.7L274.4 376.6L273.7 372.8L275.8 369.6L279.6 368.9L282.8 371.0ZM315.4 282.3L313.3 285.5L309.5 286.2L306.3 284.1L305.6 280.3L307.7 277.1L311.5 276.4L314.7 278.5ZM343.4 281.6L341.3 284.8L337.5 285.5L334.3 283.4L333.6 279.6L335.7 276.4L339.5 275.7L342.7 277.8ZM349.1 283.1L347.0 286.3L343.2 287.0L340.0 284.9L339.3 281.1L341.4 277.9L345.2 277.2L348.4 279.3ZM293.2 294.2L291.1 297.4L287.3 298.1L284.1 296.0L283.4 292.2L285.5 289.0L289.3 288.3L292.5 290.4ZM307.5 299.5L305.4 302.7L301.6 303.4L298.4 301.3L297.7 297.5L299.8 294.3L303.6 293.6L306.8 295.7ZM326.2 305.3L324.1 308.5L320.3 309.2L317.1 307.1L316.4 303.3L318.5 300.1L322.3 299.4L325.5 301.5ZM331.9 320.3L329.8 323.5L326.0 324.2L322.8 322.1L322.1 318.3L324.2 315.1L328.0 314.4L331.2 316.5ZM293.9 341.8L291.8 345.0L288.0 345.7L284.8 343.6L284.1 339.8L286.2 336.6L290.0 335.9L293.2 338.0ZM299.7 341.8L297.6 345.0L293.8 345.7L290.6 343.6L289.9 339.8L292.0 336.6L295.8 335.9L299.0 338.0ZM355.6 340.4L353.5 343.6L349.7 344.3L346.5 342.2L345.8 338.4L347.9 335.2L351.7 334.5L354.9 336.6ZM330.5 346.8L328.4 350.0L324.6 350.7L321.4 348.6L320.7 344.8L322.8 341.6L326.6 340.9L329.8 343.0ZM364.2 349.7L362.1 352.9L358.3 353.6L355.1 351.5L354.4 347.7L356.5 344.5L360.3 343.8L363.5 345.9ZM287.5 349.0L285.4 352.2L281.6 352.9L278.4 350.8L277.7 347.0L279.8 343.8L283.6 343.1L286.8 345.2ZM291.8 354.0L289.7 357.2L285.9 357.9L282.7 355.8L282.0 352.0L284.1 348.8L287.9 348.1L291.1 350.2ZM306.8 356.2L304.7 359.4L300.9 360.1L297.7 358.0L297.0 354.2L299.1 351.0L302.9 350.3L306.1 352.4ZM316.1 351.9L314.0 355.1L310.2 355.8L307.0 353.7L306.3 349.9L308.4 346.7L312.2 346.0L315.4 348.1ZM324.0 354.0L321.9 357.2L318.1 357.9L314.9 355.8L314.2 352.0L316.3 348.8L320.1 348.1L323.3 350.2ZM296.1 363.3L294.0 366.5L290.2 367.2L287.0 365.1L286.3 361.3L288.4 358.1L292.2 357.4L295.4 359.5ZM304.0 360.5L301.9 363.7L298.1 364.4L294.9 362.3L294.2 358.5L296.3 355.3L300.1 354.6L303.3 356.7ZM310.4 365.5L308.3 368.7L304.5 369.4L301.3 367.3L300.6 363.5L302.7 360.3L306.5 359.6L309.7 361.7ZM321.2 364.7L319.1 367.9L315.3 368.6L312.1 366.5L311.4 362.7L313.5 359.5L317.3 358.8L320.5 360.9ZM342.7 362.6L340.6 365.8L336.8 366.5L333.6 364.4L332.9 360.6L335.0 357.4L338.8 356.7L342.0 358.8ZM347.7 360.5L345.6 363.7L341.8 364.4L338.6 362.3L337.9 358.5L340.0 355.3L343.8 354.6L347.0 356.7ZM355.6 370.5L353.5 373.7L349.7 374.4L346.5 372.3L345.8 368.5L347.9 365.3L351.7 364.6L354.9 366.7ZM360.6 369.8L358.5 373.0L354.7 373.7L351.5 371.6L350.8 367.8L352.9 364.6L356.7 363.9L359.9 366.0ZM364.9 366.2L362.8 369.4L359.0 370.1L355.8 368.0L355.1 364.2L357.2 361.0L361.0 360.3L364.2 362.4ZM376.3 370.5L374.2 373.7L370.4 374.4L367.2 372.3L366.5 368.5L368.6 365.3L372.4 364.6L375.6 366.7ZM286.8 376.2L284.7 379.4L280.9 380.1L277.7 378.0L277.0 374.2L279.1 371.0L282.9 370.3L286.1 372.4ZM299.7 374.8L297.6 378.0L293.8 378.7L290.6 376.6L289.9 372.8L292.0 369.6L295.8 368.9L299.0 371.0ZM312.6 374.1L310.5 377.3L306.7 378.0L303.5 375.9L302.8 372.1L304.9 368.9L308.7 368.2L311.9 370.3ZM319.0 376.2L316.9 379.4L313.1 380.1L309.9 378.0L309.2 374.2L311.3 371.0L315.1 370.3L318.3 372.4ZM332.6 372.6L330.5 375.8L326.7 376.5L323.5 374.4L322.8 370.6L324.9 367.4L328.7 366.7L331.9 368.8ZM332.6 377.6L330.5 380.8L326.7 381.5L323.5 379.4L322.8 375.6L324.9 372.4L328.7 371.7L331.9 373.8ZM292.5 379.0L290.4 382.2L286.6 382.9L283.4 380.8L282.7 377.0L284.8 373.8L288.6 373.1L291.8 375.2ZM304.0 379.0L301.9 382.2L298.1 382.9L294.9 380.8L294.2 377.0L296.3 373.8L300.1 373.1L303.3 375.2ZM265.5 383.4L263.4 386.6L259.6 387.3L256.4 385.2L255.7 381.4L257.8 378.2L261.6 377.5L264.8 379.6ZM231.2 384.9L229.1 388.1L225.3 388.8L222.1 386.7L221.4 382.9L223.5 379.7L227.3 379.0L230.5 381.1ZM277.7 389.2L275.6 392.4L271.8 393.1L268.6 391.0L267.9 387.2L270.0 384.0L273.8 383.3L277.0 385.4ZM282.7 395.6L280.6 398.8L276.8 399.5L273.6 397.4L272.9 393.6L275.0 390.4L278.8 389.7L282.0 391.8ZM250.5 401.4L248.4 404.6L244.6 405.3L241.4 403.2L240.7 399.4L242.8 396.2L246.6 395.5L249.8 397.6ZM270.6 397.8L268.5 401.0L264.7 401.7L261.5 399.6L260.8 395.8L262.9 392.6L266.7 391.9L269.9 394.0ZM259.8 408.5L257.7 411.7L253.9 412.4L250.7 410.3L250.0 406.5L252.1 403.3L255.9 402.6L259.1 404.7ZM276.3 405.7L274.2 408.9L270.4 409.6L267.2 407.5L266.5 403.7L268.6 400.5L272.4 399.8L275.6 401.9ZM210.4 413.5L208.3 416.7L204.5 417.4L201.3 415.3L200.6 411.5L202.7 408.3L206.5 407.6L209.7 409.7ZM226.1 411.4L224.0 414.6L220.2 415.3L217.0 413.2L216.3 409.4L218.4 406.2L222.2 405.5L225.4 407.6ZM240.5 419.3L238.4 422.5L234.6 423.2L231.4 421.1L230.7 417.3L232.8 414.1L236.6 413.4L239.8 415.5ZM254.1 421.4L252.0 424.6L248.2 425.3L245.0 423.2L244.3 419.4L246.4 416.2L250.2 415.5L253.4 417.6ZM259.8 420.7L257.7 423.9L253.9 424.6L250.7 422.5L250.0 418.7L252.1 415.5L255.9 414.8L259.1 416.9ZM274.1 416.4L272.0 419.6L268.2 420.3L265.0 418.2L264.3 414.4L266.4 411.2L270.2 410.5L273.4 412.6ZM279.9 417.1L277.8 420.3L274.0 421.0L270.8 418.9L270.1 415.1L272.2 411.9L276.0 411.2L279.2 413.3ZM206.8 428.6L204.7 431.8L200.9 432.5L197.7 430.4L197.0 426.6L199.1 423.4L202.9 422.7L206.1 424.8ZM234.7 433.6L232.6 436.8L228.8 437.5L225.6 435.4L224.9 431.6L227.0 428.4L230.8 427.7L234.0 429.8ZM266.3 435.0L264.2 438.2L260.4 438.9L257.2 436.8L256.5 433.0L258.6 429.8L262.4 429.1L265.6 431.2ZM269.8 431.5L267.7 434.7L263.9 435.4L260.7 433.3L260.0 429.5L262.1 426.3L265.9 425.6L269.1 427.7ZM278.4 427.2L276.3 430.4L272.5 431.1L269.3 429.0L268.6 425.2L270.7 422.0L274.5 421.3L277.7 423.4ZM254.1 438.6L252.0 441.8L248.2 442.5L245.0 440.4L244.3 436.6L246.4 433.4L250.2 432.7L253.4 434.8ZM221.1 442.2L219.0 445.4L215.2 446.1L212.0 444.0L211.3 440.2L213.4 437.0L217.2 436.3L220.4 438.4ZM224.7 451.5L222.6 454.7L218.8 455.4L215.6 453.3L214.9 449.5L217.0 446.3L220.8 445.6L224.0 447.7ZM247.6 447.2L245.5 450.4L241.7 451.1L238.5 449.0L237.8 445.2L239.9 442.0L243.7 441.3L246.9 443.4ZM262.0 450.1L259.9 453.3L256.1 454.0L252.9 451.9L252.2 448.1L254.3 444.9L258.1 444.2L261.3 446.3ZM267.0 452.2L264.9 455.4L261.1 456.1L257.9 454.0L257.2 450.2L259.3 447.0L263.1 446.3L266.3 448.4ZM277.0 447.2L274.9 450.4L271.1 451.1L267.9 449.0L267.2 445.2L269.3 442.0L273.1 441.3L276.3 443.4ZM278.4 442.2L276.3 445.4L272.5 446.1L269.3 444.0L268.6 440.2L270.7 437.0L274.5 436.3L277.7 438.4ZM271.3 458.0L269.2 461.2L265.4 461.9L262.2 459.8L261.5 456.0L263.6 452.8L267.4 452.1L270.6 454.2ZM277.0 458.7L274.9 461.9L271.1 462.6L267.9 460.5L267.2 456.7L269.3 453.5L273.1 452.8L276.3 454.9ZM247.6 458.0L245.5 461.2L241.7 461.9L238.5 459.8L237.8 456.0L239.9 452.8L243.7 452.1L246.9 454.2ZM241.9 466.6L239.8 469.8L236.0 470.5L232.8 468.4L232.1 464.6L234.2 461.4L238.0 460.7L241.2 462.8ZM254.8 463.7L252.7 466.9L248.9 467.6L245.7 465.5L245.0 461.7L247.1 458.5L250.9 457.8L254.1 459.9ZM265.5 470.9L263.4 474.1L259.6 474.8L256.4 472.7L255.7 468.9L257.8 465.7L261.6 465.0L264.8 467.1ZM280.6 469.4L278.5 472.6L274.7 473.3L271.5 471.2L270.8 467.4L272.9 464.2L276.7 463.5L279.9 465.6ZM224.7 470.9L222.6 474.1L218.8 474.8L215.6 472.7L214.9 468.9L217.0 465.7L220.8 465.0L224.0 467.1ZM197.5 476.6L195.4 479.8L191.6 480.5L188.4 478.4L187.7 474.6L189.8 471.4L193.6 470.7L196.8 472.8ZM219.0 480.9L216.9 484.1L213.1 484.8L209.9 482.7L209.2 478.9L211.3 475.7L215.1 475.0L218.3 477.1ZM241.9 479.5L239.8 482.7L236.0 483.4L232.8 481.3L232.1 477.5L234.2 474.3L238.0 473.6L241.2 475.7ZM252.6 477.3L250.5 480.5L246.7 481.2L243.5 479.1L242.8 475.3L244.9 472.1L248.7 471.4L251.9 473.5ZM244.1 485.9L242.0 489.1L238.2 489.8L235.0 487.7L234.3 483.9L236.4 480.7L240.2 480.0L243.4 482.1ZM246.9 487.3L244.8 490.5L241.0 491.2L237.8 489.1L237.1 485.3L239.2 482.1L243.0 481.4L246.2 483.5ZM265.5 480.9L263.4 484.1L259.6 484.8L256.4 482.7L255.7 478.9L257.8 475.7L261.6 475.0L264.8 477.1ZM274.1 483.0L272.0 486.2L268.2 486.9L265.0 484.8L264.3 481.0L266.4 477.8L270.2 477.1L273.4 479.2ZM284.2 482.3L282.1 485.5L278.3 486.2L275.1 484.1L274.4 480.3L276.5 477.1L280.3 476.4L283.5 478.5ZM273.4 493.8L271.3 497.0L267.5 497.7L264.3 495.6L263.6 491.8L265.7 488.6L269.5 487.9L272.7 490.0ZM282.7 493.8L280.6 497.0L276.8 497.7L273.6 495.6L272.9 491.8L275.0 488.6L278.8 487.9L282.0 490.0ZM290.3 382.7L288.2 385.9L284.4 386.6L281.2 384.5L280.5 380.7L282.6 377.5L286.4 376.8L289.6 378.9ZM299.7 383.4L297.6 386.6L293.8 387.3L290.6 385.2L289.9 381.4L292.0 378.2L295.8 377.5L299.0 379.6ZM340.5 386.3L338.4 389.5L334.6 390.2L331.4 388.1L330.7 384.3L332.8 381.1L336.6 380.4L339.8 382.5ZM355.6 386.3L353.5 389.5L349.7 390.2L346.5 388.1L345.8 384.3L347.9 381.1L351.7 380.4L354.9 382.5ZM361.3 386.3L359.2 389.5L355.4 390.2L352.2 388.1L351.5 384.3L353.6 381.1L357.4 380.4L360.6 382.5ZM385.4 387.0L383.3 390.2L379.5 390.9L376.3 388.8L375.6 385.0L377.7 381.8L381.5 381.1L384.7 383.2ZM286.8 395.6L284.7 398.8L280.9 399.5L277.7 397.4L277.0 393.6L279.1 390.4L282.9 389.7L286.1 391.8ZM299.7 392.8L297.6 396.0L293.8 396.7L290.6 394.6L289.9 390.8L292.0 387.6L295.8 386.9L299.0 389.0ZM301.8 397.1L299.7 400.3L295.9 401.0L292.7 398.9L292.0 395.1L294.1 391.9L297.9 391.2L301.1 393.3ZM299.7 401.4L297.6 404.6L293.8 405.3L290.6 403.2L289.9 399.4L292.0 396.2L295.8 395.5L299.0 397.6ZM311.1 389.2L309.0 392.4L305.2 393.1L302.0 391.0L301.3 387.2L303.4 384.0L307.2 383.3L310.4 385.4ZM317.6 392.0L315.5 395.2L311.7 395.9L308.5 393.8L307.8 390.0L309.9 386.8L313.7 386.1L316.9 388.2ZM318.3 397.8L316.2 401.0L312.4 401.7L309.2 399.6L308.5 395.8L310.6 392.6L314.4 391.9L317.6 394.0ZM324.7 401.4L322.6 404.6L318.8 405.3L315.6 403.2L314.9 399.4L317.0 396.2L320.8 395.5L324.0 397.6ZM329.8 393.5L327.7 396.7L323.9 397.4L320.7 395.3L320.0 391.5L322.1 388.3L325.9 387.6L329.1 389.7ZM334.8 396.3L332.7 399.5L328.9 400.2L325.7 398.1L325.0 394.3L327.1 391.1L330.9 390.4L334.1 392.5ZM358.4 397.1L356.3 400.3L352.5 401.0L349.3 398.9L348.6 395.1L350.7 391.9L354.5 391.2L357.7 393.3ZM359.9 401.4L357.8 404.6L354.0 405.3L350.8 403.2L350.1 399.4L352.2 396.2L356.0 395.5L359.2 397.6ZM371.3 397.1L369.2 400.3L365.4 401.0L362.2 398.9L361.5 395.1L363.6 391.9L367.4 391.2L370.6 393.3ZM385.4 408.8L383.3 412.0L379.5 412.7L376.3 410.6L375.6 406.8L377.7 403.6L381.5 402.9L384.7 405.0ZM290.3 407.8L288.2 411.0L284.4 411.7L281.2 409.6L280.5 405.8L282.6 402.6L286.4 401.9L289.6 404.0ZM290.3 413.5L288.2 416.7L284.4 417.4L281.2 415.3L280.5 411.5L282.6 408.3L286.4 407.6L289.6 409.7ZM303.2 412.8L301.1 416.0L297.3 416.7L294.1 414.6L293.4 410.8L295.5 407.6L299.3 406.9L302.5 409.0ZM311.9 410.0L309.8 413.2L306.0 413.9L302.8 411.8L302.1 408.0L304.2 404.8L308.0 404.1L311.2 406.2ZM312.6 415.0L310.5 418.2L306.7 418.9L303.5 416.8L302.8 413.0L304.9 409.8L308.7 409.1L311.9 411.2ZM314.7 413.5L312.6 416.7L308.8 417.4L305.6 415.3L304.9 411.5L307.0 408.3L310.8 407.6L314.0 409.7ZM335.5 412.8L333.4 416.0L329.6 416.7L326.4 414.6L325.7 410.8L327.8 407.6L331.6 406.9L334.8 409.0ZM341.2 408.5L339.1 411.7L335.3 412.4L332.1 410.3L331.4 406.5L333.5 403.3L337.3 402.6L340.5 404.7ZM341.2 414.3L339.1 417.5L335.3 418.2L332.1 416.1L331.4 412.3L333.5 409.1L337.3 408.4L340.5 410.5ZM358.4 410.0L356.3 413.2L352.5 413.9L349.3 411.8L348.6 408.0L350.7 404.8L354.5 404.1L357.7 406.2ZM362.0 414.3L359.9 417.5L356.1 418.2L352.9 416.1L352.2 412.3L354.3 409.1L358.1 408.4L361.3 410.5ZM322.6 420.7L320.5 423.9L316.7 424.6L313.5 422.5L312.8 418.7L314.9 415.5L318.7 414.8L321.9 416.9ZM326.9 421.4L324.8 424.6L321.0 425.3L317.8 423.2L317.1 419.4L319.2 416.2L323.0 415.5L326.2 417.6ZM298.9 424.3L296.8 427.5L293.0 428.2L289.8 426.1L289.1 422.3L291.2 419.1L295.0 418.4L298.2 420.5ZM295.4 429.3L293.3 432.5L289.5 433.2L286.3 431.1L285.6 427.3L287.7 424.1L291.5 423.4L294.7 425.5ZM288.2 431.5L286.1 434.7L282.3 435.4L279.1 433.3L278.4 429.5L280.5 426.3L284.3 425.6L287.5 427.7ZM307.5 434.3L305.4 437.5L301.6 438.2L298.4 436.1L297.7 432.3L299.8 429.1L303.6 428.4L306.8 430.5ZM313.3 429.3L311.2 432.5L307.4 433.2L304.2 431.1L303.5 427.3L305.6 424.1L309.4 423.4L312.6 425.5ZM323.3 427.2L321.2 430.4L317.4 431.1L314.2 429.0L313.5 425.2L315.6 422.0L319.4 421.3L322.6 423.4ZM323.3 433.6L321.2 436.8L317.4 437.5L314.2 435.4L313.5 431.6L315.6 428.4L319.4 427.7L322.6 429.8ZM332.6 426.4L330.5 429.6L326.7 430.3L323.5 428.2L322.8 424.4L324.9 421.2L328.7 420.5L331.9 422.6ZM339.8 427.2L337.7 430.4L333.9 431.1L330.7 429.0L330.0 425.2L332.1 422.0L335.9 421.3L339.1 423.4ZM352.0 425.0L349.9 428.2L346.1 428.9L342.9 426.8L342.2 423.0L344.3 419.8L348.1 419.1L351.3 421.2ZM360.6 432.2L358.5 435.4L354.7 436.1L351.5 434.0L350.8 430.2L352.9 427.0L356.7 426.3L359.9 428.4ZM360.6 437.9L358.5 441.1L354.7 441.8L351.5 439.7L350.8 435.9L352.9 432.7L356.7 432.0L359.9 434.1ZM376.3 427.9L374.2 431.1L370.4 431.8L367.2 429.7L366.5 425.9L368.6 422.7L372.4 422.0L375.6 424.1ZM376.3 433.6L374.2 436.8L370.4 437.5L367.2 435.4L366.5 431.6L368.6 428.4L372.4 427.7L375.6 429.8ZM376.3 438.6L374.2 441.8L370.4 442.5L367.2 440.4L366.5 436.6L368.6 433.4L372.4 432.7L375.6 434.8ZM391.4 430.0L389.3 433.2L385.5 433.9L382.3 431.8L381.6 428.0L383.7 424.8L387.5 424.1L390.7 426.2ZM340.5 437.2L338.4 440.4L334.6 441.1L331.4 439.0L330.7 435.2L332.8 432.0L336.6 431.3L339.8 433.4ZM344.8 437.9L342.7 441.1L338.9 441.8L335.7 439.7L335.0 435.9L337.1 432.7L340.9 432.0L344.1 434.1ZM300.4 443.6L298.3 446.8L294.5 447.5L291.3 445.4L290.6 441.6L292.7 438.4L296.5 437.7L299.7 439.8ZM320.4 444.4L318.3 447.6L314.5 448.3L311.3 446.2L310.6 442.4L312.7 439.2L316.5 438.5L319.7 440.6ZM339.1 442.9L337.0 446.1L333.2 446.8L330.0 444.7L329.3 440.9L331.4 437.7L335.2 437.0L338.4 439.1ZM337.6 447.2L335.5 450.4L331.7 451.1L328.5 449.0L327.8 445.2L329.9 442.0L333.7 441.3L336.9 443.4ZM289.6 447.9L287.5 451.1L283.7 451.8L280.5 449.7L279.8 445.9L281.9 442.7L285.7 442.0L288.9 444.1ZM293.9 454.4L291.8 457.6L288.0 458.3L284.8 456.2L284.1 452.4L286.2 449.2L290.0 448.5L293.2 450.6ZM306.8 451.5L304.7 454.7L300.9 455.4L297.7 453.3L297.0 449.5L299.1 446.3L302.9 445.6L306.1 447.7ZM313.3 451.5L311.2 454.7L307.4 455.4L304.2 453.3L303.5 449.5L305.6 446.3L309.4 445.6L312.6 447.7ZM326.2 454.4L324.1 457.6L320.3 458.3L317.1 456.2L316.4 452.4L318.5 449.2L322.3 448.5L325.5 450.6ZM335.5 453.0L333.4 456.2L329.6 456.9L326.4 454.8L325.7 451.0L327.8 447.8L331.6 447.1L334.8 449.2ZM353.4 447.2L351.3 450.4L347.5 451.1L344.3 449.0L343.6 445.2L345.7 442.0L349.5 441.3L352.7 443.4ZM360.6 453.7L358.5 456.9L354.7 457.6L351.5 455.5L350.8 451.7L352.9 448.5L356.7 447.8L359.9 449.9ZM352.7 458.0L350.6 461.2L346.8 461.9L343.6 459.8L342.9 456.0L345.0 452.8L348.8 452.1L352.0 454.2ZM376.3 452.2L374.2 455.4L370.4 456.1L367.2 454.0L366.5 450.2L368.6 447.0L372.4 446.3L375.6 448.4ZM391.4 456.5L389.3 459.7L385.5 460.4L382.3 458.3L381.6 454.5L383.7 451.3L387.5 450.6L390.7 452.7ZM367.7 461.6L365.6 464.8L361.8 465.5L358.6 463.4L357.9 459.6L360.0 456.4L363.8 455.7L367.0 457.8ZM294.6 465.9L292.5 469.1L288.7 469.8L285.5 467.7L284.8 463.9L286.9 460.7L290.7 460.0L293.9 462.1ZM289.6 472.3L287.5 475.5L283.7 476.2L280.5 474.1L279.8 470.3L281.9 467.1L285.7 466.4L288.9 468.5ZM304.0 468.0L301.9 471.2L298.1 471.9L294.9 469.8L294.2 466.0L296.3 462.8L300.1 462.1L303.3 464.2ZM310.4 465.9L308.3 469.1L304.5 469.8L301.3 467.7L300.6 463.9L302.7 460.7L306.5 460.0L309.7 462.1ZM322.6 463.0L320.5 466.2L316.7 466.9L313.5 464.8L312.8 461.0L314.9 457.8L318.7 457.1L321.9 459.2ZM336.2 463.7L334.1 466.9L330.3 467.6L327.1 465.5L326.4 461.7L328.5 458.5L332.3 457.8L335.5 459.9ZM359.9 465.9L357.8 469.1L354.0 469.8L350.8 467.7L350.1 463.9L352.2 460.7L356.0 460.0L359.2 462.1ZM318.3 475.2L316.2 478.4L312.4 479.1L309.2 477.0L308.5 473.2L310.6 470.0L314.4 469.3L317.6 471.4ZM325.5 471.6L323.4 474.8L319.6 475.5L316.4 473.4L315.7 469.6L317.8 466.4L321.6 465.7L324.8 467.8ZM343.4 470.9L341.3 474.1L337.5 474.8L334.3 472.7L333.6 468.9L335.7 465.7L339.5 465.0L342.7 467.1ZM361.3 475.9L359.2 479.1L355.4 479.8L352.2 477.7L351.5 473.9L353.6 470.7L357.4 470.0L360.6 472.1ZM376.3 471.6L374.2 474.8L370.4 475.5L367.2 473.4L366.5 469.6L368.6 466.4L372.4 465.7L375.6 467.8ZM376.3 477.3L374.2 480.5L370.4 481.2L367.2 479.1L366.5 475.3L368.6 472.1L372.4 471.4L375.6 473.5ZM391.4 478.7L389.3 481.9L385.5 482.6L382.3 480.5L381.6 476.7L383.7 473.5L387.5 472.8L390.7 474.9ZM299.7 480.2L297.6 483.4L293.8 484.1L290.6 482.0L289.9 478.2L292.0 475.0L295.8 474.3L299.0 476.4ZM304.7 480.2L302.6 483.4L298.8 484.1L295.6 482.0L294.9 478.2L297.0 475.0L300.8 474.3L304.0 476.4ZM316.1 487.3L314.0 490.5L310.2 491.2L307.0 489.1L306.3 485.3L308.4 482.1L312.2 481.4L315.4 483.5ZM328.3 483.8L326.2 487.0L322.4 487.7L319.2 485.6L318.5 481.8L320.6 478.6L324.4 477.9L327.6 480.0ZM339.8 483.0L337.7 486.2L333.9 486.9L330.7 484.8L330.0 481.0L332.1 477.8L335.9 477.1L339.1 479.2ZM352.7 480.2L350.6 483.4L346.8 484.1L343.6 482.0L342.9 478.2L345.0 475.0L348.8 474.3L352.0 476.4ZM362.0 481.6L359.9 484.8L356.1 485.5L352.9 483.4L352.2 479.6L354.3 476.4L358.1 475.7L361.3 477.8ZM382.1 488.1L380.0 491.3L376.2 492.0L373.0 489.9L372.3 486.1L374.4 482.9L378.2 482.2L381.4 484.3ZM299.7 490.2L297.6 493.4L293.8 494.1L290.6 492.0L289.9 488.2L292.0 485.0L295.8 484.3L299.0 486.4ZM286.8 491.6L284.7 494.8L280.9 495.5L277.7 493.4L277.0 489.6L279.1 486.4L282.9 485.7L286.1 487.8ZM233.3 501.7L231.2 504.9L227.4 505.6L224.2 503.5L223.5 499.7L225.6 496.5L229.4 495.8L232.6 497.9ZM218.3 506.0L216.2 509.2L212.4 509.9L209.2 507.8L208.5 504.0L210.6 500.8L214.4 500.1L217.6 502.2ZM206.1 508.9L204.0 512.1L200.2 512.8L197.0 510.7L196.3 506.9L198.4 503.7L202.2 503.0L205.4 505.1ZM234.7 515.4L232.6 518.6L228.8 519.3L225.6 517.2L224.9 513.4L227.0 510.2L230.8 509.5L234.0 511.6ZM262.0 501.7L259.9 504.9L256.1 505.6L252.9 503.5L252.2 499.7L254.3 496.5L258.1 495.8L261.3 497.9ZM265.5 506.0L263.4 509.2L259.6 509.9L256.4 507.8L255.7 504.0L257.8 500.8L261.6 500.1L264.8 502.2ZM196.0 533.3L193.9 536.5L190.1 537.2L186.9 535.1L186.2 531.3L188.3 528.1L192.1 527.4L195.3 529.5ZM211.1 532.6L209.0 535.8L205.2 536.5L202.0 534.4L201.3 530.6L203.4 527.4L207.2 526.7L210.4 528.8ZM226.1 533.3L224.0 536.5L220.2 537.2L217.0 535.1L216.3 531.3L218.4 528.1L222.2 527.4L225.4 529.5ZM242.6 530.4L240.5 533.6L236.7 534.3L233.5 532.2L232.8 528.4L234.9 525.2L238.7 524.5L241.9 526.6ZM251.9 531.8L249.8 535.0L246.0 535.7L242.8 533.6L242.1 529.8L244.2 526.6L248.0 525.9L251.2 528.0ZM262.7 531.8L260.6 535.0L256.8 535.7L253.6 533.6L252.9 529.8L255.0 526.6L258.8 525.9L262.0 528.0ZM282.0 538.3L279.9 541.5L276.1 542.2L272.9 540.1L272.2 536.3L274.3 533.1L278.1 532.4L281.3 534.5ZM176.0 542.6L173.9 545.8L170.1 546.5L166.9 544.4L166.2 540.6L168.3 537.4L172.1 536.7L175.3 538.8ZM195.3 543.3L193.2 546.5L189.4 547.2L186.2 545.1L185.5 541.3L187.6 538.1L191.4 537.4L194.6 539.5ZM200.3 543.3L198.2 546.5L194.4 547.2L191.2 545.1L190.5 541.3L192.6 538.1L196.4 537.4L199.6 539.5ZM205.4 544.0L203.3 547.2L199.5 547.9L196.3 545.8L195.6 542.0L197.7 538.8L201.5 538.1L204.7 540.2ZM210.4 540.4L208.3 543.6L204.5 544.3L201.3 542.2L200.6 538.4L202.7 535.2L206.5 534.5L209.7 536.6ZM230.4 541.2L228.3 544.4L224.5 545.1L221.3 543.0L220.6 539.2L222.7 536.0L226.5 535.3L229.7 537.4ZM236.9 540.4L234.8 543.6L231.0 544.3L227.8 542.2L227.1 538.4L229.2 535.2L233.0 534.5L236.2 536.6ZM241.9 534.7L239.8 537.9L236.0 538.6L232.8 536.5L232.1 532.7L234.2 529.5L238.0 528.8L241.2 530.9ZM241.2 543.3L239.1 546.5L235.3 547.2L232.1 545.1L231.4 541.3L233.5 538.1L237.3 537.4L240.5 539.5ZM237.6 547.6L235.5 550.8L231.7 551.5L228.5 549.4L227.8 545.6L229.9 542.4L233.7 541.7L236.9 543.8ZM254.8 547.6L252.7 550.8L248.9 551.5L245.7 549.4L245.0 545.6L247.1 542.4L250.9 541.7L254.1 543.8ZM165.2 553.3L163.1 556.5L159.3 557.2L156.1 555.1L155.4 551.3L157.5 548.1L161.3 547.4L164.5 549.5ZM177.4 553.3L175.3 556.5L171.5 557.2L168.3 555.1L167.6 551.3L169.7 548.1L173.5 547.4L176.7 549.5ZM189.6 553.3L187.5 556.5L183.7 557.2L180.5 555.1L179.8 551.3L181.9 548.1L185.7 547.4L188.9 549.5ZM203.9 552.6L201.8 555.8L198.0 556.5L194.8 554.4L194.1 550.6L196.2 547.4L200.0 546.7L203.2 548.8ZM223.3 552.6L221.2 555.8L217.4 556.5L214.2 554.4L213.5 550.6L215.6 547.4L219.4 546.7L222.6 548.8ZM216.8 560.5L214.7 563.7L210.9 564.4L207.7 562.3L207.0 558.5L209.1 555.3L212.9 554.6L216.1 556.7ZM221.1 558.4L219.0 561.6L215.2 562.3L212.0 560.2L211.3 556.4L213.4 553.2L217.2 552.5L220.4 554.6ZM244.8 554.1L242.7 557.3L238.9 558.0L235.7 555.9L235.0 552.1L237.1 548.9L240.9 548.2L244.1 550.3ZM251.2 553.3L249.1 556.5L245.3 557.2L242.1 555.1L241.4 551.3L243.5 548.1L247.3 547.4L250.5 549.5ZM264.1 556.9L262.0 560.1L258.2 560.8L255.0 558.7L254.3 554.9L256.4 551.7L260.2 551.0L263.4 553.1ZM260.5 561.2L258.4 564.4L254.6 565.1L251.4 563.0L250.7 559.2L252.8 556.0L256.6 555.3L259.8 557.4ZM169.5 568.4L167.4 571.6L163.6 572.3L160.4 570.2L159.7 566.4L161.8 563.2L165.6 562.5L168.8 564.6ZM176.0 567.7L173.9 570.9L170.1 571.6L166.9 569.5L166.2 565.7L168.3 562.5L172.1 561.8L175.3 563.9ZM165.2 574.1L163.1 577.3L159.3 578.0L156.1 575.9L155.4 572.1L157.5 568.9L161.3 568.2L164.5 570.3ZM192.5 567.0L190.4 570.2L186.6 570.9L183.4 568.8L182.7 565.0L184.8 561.8L188.6 561.1L191.8 563.2ZM196.8 567.0L194.7 570.2L190.9 570.9L187.7 568.8L187.0 565.0L189.1 561.8L192.9 561.1L196.1 563.2ZM204.6 569.8L202.5 573.0L198.7 573.7L195.5 571.6L194.8 567.8L196.9 564.6L200.7 563.9L203.9 566.0ZM237.6 567.7L235.5 570.9L231.7 571.6L228.5 569.5L227.8 565.7L229.9 562.5L233.7 561.8L236.9 563.9ZM221.1 572.7L219.0 575.9L215.2 576.6L212.0 574.5L211.3 570.7L213.4 567.5L217.2 566.8L220.4 568.9ZM250.5 572.7L248.4 575.9L244.6 576.6L241.4 574.5L240.7 570.7L242.8 567.5L246.6 566.8L249.8 568.9ZM251.2 578.4L249.1 581.6L245.3 582.3L242.1 580.2L241.4 576.4L243.5 573.2L247.3 572.5L250.5 574.6ZM261.2 577.7L259.1 580.9L255.3 581.6L252.1 579.5L251.4 575.7L253.5 572.5L257.3 571.8L260.5 573.9ZM190.3 581.3L188.2 584.5L184.4 585.2L181.2 583.1L180.5 579.3L182.6 576.1L186.4 575.4L189.6 577.5ZM194.6 579.9L192.5 583.1L188.7 583.8L185.5 581.7L184.8 577.9L186.9 574.7L190.7 574.0L193.9 576.1ZM206.8 579.9L204.7 583.1L200.9 583.8L197.7 581.7L197.0 577.9L199.1 574.7L202.9 574.0L206.1 576.1ZM216.8 580.6L214.7 583.8L210.9 584.5L207.7 582.4L207.0 578.6L209.1 575.4L212.9 574.7L216.1 576.8ZM227.6 578.4L225.5 581.6L221.7 582.3L218.5 580.2L217.8 576.4L219.9 573.2L223.7 572.5L226.9 574.6ZM250.5 583.4L248.4 586.6L244.6 587.3L241.4 585.2L240.7 581.4L242.8 578.2L246.6 577.5L249.8 579.6ZM234.7 586.3L232.6 589.5L228.8 590.2L225.6 588.1L224.9 584.3L227.0 581.1L230.8 580.4L234.0 582.5ZM178.8 586.3L176.7 589.5L172.9 590.2L169.7 588.1L169.0 584.3L171.1 581.1L174.9 580.4L178.1 582.5ZM181.0 591.3L178.9 594.5L175.1 595.2L171.9 593.1L171.2 589.3L173.3 586.1L177.1 585.4L180.3 587.5ZM185.3 592.7L183.2 595.9L179.4 596.6L176.2 594.5L175.5 590.7L177.6 587.5L181.4 586.8L184.6 588.9ZM189.6 591.3L187.5 594.5L183.7 595.2L180.5 593.1L179.8 589.3L181.9 586.1L185.7 585.4L188.9 587.5ZM165.2 592.0L163.1 595.2L159.3 595.9L156.1 593.8L155.4 590.0L157.5 586.8L161.3 586.1L164.5 588.2ZM206.8 595.6L204.7 598.8L200.9 599.5L197.7 597.4L197.0 593.6L199.1 590.4L202.9 589.7L206.1 591.8ZM221.1 593.5L219.0 596.7L215.2 597.4L212.0 595.3L211.3 591.5L213.4 588.3L217.2 587.6L220.4 589.7ZM227.6 594.2L225.5 597.4L221.7 598.1L218.5 596.0L217.8 592.2L219.9 589.0L223.7 588.3L226.9 590.4ZM232.6 595.6L230.5 598.8L226.7 599.5L223.5 597.4L222.8 593.6L224.9 590.4L228.7 589.7L231.9 591.8ZM262.7 589.9L260.6 593.1L256.8 593.8L253.6 591.7L252.9 587.9L255.0 584.7L258.8 584.0L262.0 586.1ZM262.7 595.6L260.6 598.8L256.8 599.5L253.6 597.4L252.9 593.6L255.0 590.4L258.8 589.7L262.0 591.8ZM279.2 594.9L277.1 598.1L273.3 598.8L270.1 596.7L269.4 592.9L271.5 589.7L275.3 589.0L278.5 591.1ZM248.3 599.2L246.2 602.4L242.4 603.1L239.2 601.0L238.5 597.2L240.6 594.0L244.4 593.3L247.6 595.4ZM230.4 603.5L228.3 606.7L224.5 607.4L221.3 605.3L220.6 601.5L222.7 598.3L226.5 597.6L229.7 599.7ZM249.1 604.2L247.0 607.4L243.2 608.1L240.0 606.0L239.3 602.2L241.4 599.0L245.2 598.3L248.4 600.4ZM180.3 607.1L178.2 610.3L174.4 611.0L171.2 608.9L170.5 605.1L172.6 601.9L176.4 601.2L179.6 603.3ZM185.3 608.5L183.2 611.7L179.4 612.4L176.2 610.3L175.5 606.5L177.6 603.3L181.4 602.6L184.6 604.7ZM201.1 605.6L199.0 608.8L195.2 609.5L192.0 607.4L191.3 603.6L193.4 600.4L197.2 599.7L200.4 601.8ZM206.1 607.1L204.0 610.3L200.2 611.0L197.0 608.9L196.3 605.1L198.4 601.9L202.2 601.2L205.4 603.3ZM262.0 609.2L259.9 612.4L256.1 613.1L252.9 611.0L252.2 607.2L254.3 604.0L258.1 603.3L261.3 605.4ZM280.6 607.8L278.5 611.0L274.7 611.7L271.5 609.6L270.8 605.8L272.9 602.6L276.7 601.9L279.9 604.0ZM306.8 498.2L304.7 501.4L300.9 502.1L297.7 500.0L297.0 496.2L299.1 493.0L302.9 492.3L306.1 494.4ZM320.4 498.2L318.3 501.4L314.5 502.1L311.3 500.0L310.6 496.2L312.7 493.0L316.5 492.3L319.7 494.4ZM326.2 498.2L324.1 501.4L320.3 502.1L317.1 500.0L316.4 496.2L318.5 493.0L322.3 492.3L325.5 494.4ZM342.7 498.9L340.6 502.1L336.8 502.8L333.6 500.7L332.9 496.9L335.0 493.7L338.8 493.0L342.0 495.1ZM353.4 499.3L351.3 502.5L347.5 503.2L344.3 501.1L343.6 497.3L345.7 494.1L349.5 493.4L352.7 495.5ZM364.2 498.2L362.1 501.4L358.3 502.1L355.1 500.0L354.4 496.2L356.5 493.0L360.3 492.3L363.5 494.4ZM290.3 513.2L288.2 516.4L284.4 517.1L281.2 515.0L280.5 511.2L282.6 508.0L286.4 507.3L289.6 509.4ZM291.1 572.7L289.0 575.9L285.2 576.6L282.0 574.5L281.3 570.7L283.4 567.5L287.2 566.8L290.4 568.9ZM362.7 569.1L360.6 572.3L356.8 573.0L353.6 570.9L352.9 567.1L355.0 563.9L358.8 563.2L362.0 565.3ZM382.8 569.1L380.7 572.3L376.9 573.0L373.7 570.9L373.0 567.1L375.1 563.9L378.9 563.2L382.1 565.3ZM393.5 579.9L391.4 583.1L387.6 583.8L384.4 581.7L383.7 577.9L385.8 574.7L389.6 574.0L392.8 576.1ZM334.8 580.6L332.7 583.8L328.9 584.5L325.7 582.4L325.0 578.6L327.1 575.4L330.9 574.7L334.1 576.8ZM331.2 584.2L329.1 587.4L325.3 588.1L322.1 586.0L321.4 582.2L323.5 579.0L327.3 578.3L330.5 580.4ZM328.3 589.9L326.2 593.1L322.4 593.8L319.2 591.7L318.5 587.9L320.6 584.7L324.4 584.0L327.6 586.1ZM338.4 592.7L336.3 595.9L332.5 596.6L329.3 594.5L328.6 590.7L330.7 587.5L334.5 586.8L337.7 588.9ZM347.7 588.4L345.6 591.6L341.8 592.3L338.6 590.2L337.9 586.4L340.0 583.2L343.8 582.5L347.0 584.6ZM351.3 579.1L349.2 582.3L345.4 583.0L342.2 580.9L341.5 577.1L343.6 573.9L347.4 573.2L350.6 575.3ZM354.8 580.6L352.7 583.8L348.9 584.5L345.7 582.4L345.0 578.6L347.1 575.4L350.9 574.7L354.1 576.8ZM364.9 581.3L362.8 584.5L359.0 585.2L355.8 583.1L355.1 579.3L357.2 576.1L361.0 575.4L364.2 577.5ZM369.9 581.3L367.8 584.5L364.0 585.2L360.8 583.1L360.1 579.3L362.2 576.1L366.0 575.4L369.2 577.5ZM359.1 592.0L357.0 595.2L353.2 595.9L350.0 593.8L349.3 590.0L351.4 586.8L355.2 586.1L358.4 588.2ZM379.2 591.3L377.1 594.5L373.3 595.2L370.1 593.1L369.4 589.3L371.5 586.1L375.3 585.4L378.5 587.5ZM382.8 592.0L380.7 595.2L376.9 595.9L373.7 593.8L373.0 590.0L375.1 586.8L378.9 586.1L382.1 588.2ZM385.7 593.5L383.6 596.7L379.8 597.4L376.6 595.3L375.9 591.5L378.0 588.3L381.8 587.6L385.0 589.7ZM395.7 594.9L393.6 598.1L389.8 598.8L386.6 596.7L385.9 592.9L388.0 589.7L391.8 589.0L395.0 591.1ZM392.8 602.1L390.7 605.3L386.9 606.0L383.7 603.9L383.0 600.1L385.1 596.9L388.9 596.2L392.1 598.3ZM347.7 599.9L345.6 603.1L341.8 603.8L338.6 601.7L337.9 597.9L340.0 594.7L343.8 594.0L347.0 596.1ZM357.7 599.2L355.6 602.4L351.8 603.1L348.6 601.0L347.9 597.2L350.0 594.0L353.8 593.3L357.0 595.4ZM347.0 605.6L344.9 608.8L341.1 609.5L337.9 607.4L337.2 603.6L339.3 600.4L343.1 599.7L346.3 601.8ZM338.4 606.4L336.3 609.6L332.5 610.3L329.3 608.2L328.6 604.4L330.7 601.2L334.5 600.5L337.7 602.6ZM324.7 606.4L322.6 609.6L318.8 610.3L315.6 608.2L314.9 604.4L317.0 601.2L320.8 600.5L324.0 602.6ZM367.0 604.2L364.9 607.4L361.1 608.1L357.9 606.0L357.2 602.2L359.3 599.0L363.1 598.3L366.3 600.4ZM371.3 604.9L369.2 608.1L365.4 608.8L362.2 606.7L361.5 602.9L363.6 599.7L367.4 599.0L370.6 601.1ZM379.9 609.9L377.8 613.1L374.0 613.8L370.8 611.7L370.1 607.9L372.2 604.7L376.0 604.0L379.2 606.1ZM203.9 611.4L201.8 614.6L198.0 615.3L194.8 613.2L194.1 609.4L196.2 606.2L200.0 605.5L203.2 607.6ZM248.3 612.2L246.2 615.4L242.4 616.1L239.2 614.0L238.5 610.2L240.6 607.0L244.4 606.3L247.6 608.4ZM277.0 612.9L274.9 616.1L271.1 616.8L267.9 614.7L267.2 610.9L269.3 607.7L273.1 607.0L276.3 609.1ZM170.2 618.6L168.1 621.8L164.3 622.5L161.1 620.4L160.4 616.6L162.5 613.4L166.3 612.7L169.5 614.8ZM169.5 627.2L167.4 630.4L163.6 631.1L160.4 629.0L159.7 625.2L161.8 622.0L165.6 621.3L168.8 623.4ZM183.1 631.5L181.0 634.7L177.2 635.4L174.0 633.3L173.3 629.5L175.4 626.3L179.2 625.6L182.4 627.7ZM186.0 635.8L183.9 639.0L180.1 639.7L176.9 637.6L176.2 633.8L178.3 630.6L182.1 629.9L185.3 632.0ZM183.9 641.5L181.8 644.7L178.0 645.4L174.8 643.3L174.1 639.5L176.2 636.3L180.0 635.6L183.2 637.7ZM201.1 620.0L199.0 623.2L195.2 623.9L192.0 621.8L191.3 618.0L193.4 614.8L197.2 614.1L200.4 616.2ZM200.3 625.8L198.2 629.0L194.4 629.7L191.2 627.6L190.5 623.8L192.6 620.6L196.4 619.9L199.6 622.0ZM203.2 630.8L201.1 634.0L197.3 634.7L194.1 632.6L193.4 628.8L195.5 625.6L199.3 624.9L202.5 627.0ZM216.1 617.2L214.0 620.4L210.2 621.1L207.0 619.0L206.3 615.2L208.4 612.0L212.2 611.3L215.4 613.4ZM219.7 620.8L217.6 624.0L213.8 624.7L210.6 622.6L209.9 618.8L212.0 615.6L215.8 614.9L219.0 617.0ZM221.1 625.1L219.0 628.3L215.2 629.0L212.0 626.9L211.3 623.1L213.4 619.9L217.2 619.2L220.4 621.3ZM217.5 633.0L215.4 636.2L211.6 636.9L208.4 634.8L207.7 631.0L209.8 627.8L213.6 627.1L216.8 629.2ZM222.6 630.1L220.5 633.3L216.7 634.0L213.5 631.9L212.8 628.1L214.9 624.9L218.7 624.2L221.9 626.3ZM227.6 630.8L225.5 634.0L221.7 634.7L218.5 632.6L217.8 628.8L219.9 625.6L223.7 624.9L226.9 627.0ZM229.7 617.2L227.6 620.4L223.8 621.1L220.6 619.0L219.9 615.2L222.0 612.0L225.8 611.3L229.0 613.4ZM232.6 622.2L230.5 625.4L226.7 626.1L223.5 624.0L222.8 620.2L224.9 617.0L228.7 616.3L231.9 618.4ZM237.6 615.0L235.5 618.2L231.7 618.9L228.5 616.8L227.8 613.0L229.9 609.8L233.7 609.1L236.9 611.2ZM252.6 620.8L250.5 624.0L246.7 624.7L243.5 622.6L242.8 618.8L244.9 615.6L248.7 614.9L251.9 617.0ZM256.9 617.9L254.8 621.1L251.0 621.8L247.8 619.7L247.1 615.9L249.2 612.7L253.0 612.0L256.2 614.1ZM243.3 630.8L241.2 634.0L237.4 634.7L234.2 632.6L233.5 628.8L235.6 625.6L239.4 624.9L242.6 627.0ZM244.1 638.0L242.0 641.2L238.2 641.9L235.0 639.8L234.3 636.0L236.4 632.8L240.2 632.1L243.4 634.2ZM249.8 638.0L247.7 641.2L243.9 641.9L240.7 639.8L240.0 636.0L242.1 632.8L245.9 632.1L249.1 634.2ZM249.8 643.7L247.7 646.9L243.9 647.6L240.7 645.5L240.0 641.7L242.1 638.5L245.9 637.8L249.1 639.9ZM261.2 628.6L259.1 631.8L255.3 632.5L252.1 630.4L251.4 626.6L253.5 623.4L257.3 622.7L260.5 624.8ZM267.7 628.6L265.6 631.8L261.8 632.5L258.6 630.4L257.9 626.6L260.0 623.4L263.8 622.7L267.0 624.8ZM260.5 633.7L258.4 636.9L254.6 637.6L251.4 635.5L250.7 631.7L252.8 628.5L256.6 627.8L259.8 629.9ZM264.1 637.2L262.0 640.4L258.2 641.1L255.0 639.0L254.3 635.2L256.4 632.0L260.2 631.3L263.4 633.4ZM275.6 642.3L273.5 645.5L269.7 646.2L266.5 644.1L265.8 640.3L267.9 637.1L271.7 636.4L274.9 638.5ZM282.0 635.1L279.9 638.3L276.1 639.0L272.9 636.9L272.2 633.1L274.3 629.9L278.1 629.2L281.3 631.3ZM207.5 643.0L205.4 646.2L201.6 646.9L198.4 644.8L197.7 641.0L199.8 637.8L203.6 637.1L206.8 639.2ZM199.6 650.1L197.5 653.3L193.7 654.0L190.5 651.9L189.8 648.1L191.9 644.9L195.7 644.2L198.9 646.3ZM214.7 649.4L212.6 652.6L208.8 653.3L205.6 651.2L204.9 647.4L207.0 644.2L210.8 643.5L214.0 645.6ZM211.8 657.3L209.7 660.5L205.9 661.2L202.7 659.1L202.0 655.3L204.1 652.1L207.9 651.4L211.1 653.5ZM231.2 650.1L229.1 653.3L225.3 654.0L222.1 651.9L221.4 648.1L223.5 644.9L227.3 644.2L230.5 646.3ZM236.9 652.3L234.8 655.5L231.0 656.2L227.8 654.1L227.1 650.3L229.2 647.1L233.0 646.4L236.2 648.5ZM225.4 657.3L223.3 660.5L219.5 661.2L216.3 659.1L215.6 655.3L217.7 652.1L221.5 651.4L224.7 653.5ZM183.9 657.3L181.8 660.5L178.0 661.2L174.8 659.1L174.1 655.3L176.2 652.1L180.0 651.4L183.2 653.5ZM188.2 657.3L186.1 660.5L182.3 661.2L179.1 659.1L178.4 655.3L180.5 652.1L184.3 651.4L187.5 653.5ZM250.5 657.3L248.4 660.5L244.6 661.2L241.4 659.1L240.7 655.3L242.8 652.1L246.6 651.4L249.8 653.5ZM266.3 652.3L264.2 655.5L260.4 656.2L257.2 654.1L256.5 650.3L258.6 647.1L262.4 646.4L265.6 648.5ZM267.7 657.3L265.6 660.5L261.8 661.2L258.6 659.1L257.9 655.3L260.0 652.1L263.8 651.4L267.0 653.5ZM219.7 668.1L217.6 671.3L213.8 672.0L210.6 669.9L209.9 666.1L212.0 662.9L215.8 662.2L219.0 664.3ZM243.3 668.1L241.2 671.3L237.4 672.0L234.2 669.9L233.5 666.1L235.6 662.9L239.4 662.2L242.6 664.3ZM278.4 677.4L276.3 680.6L272.5 681.3L269.3 679.2L268.6 675.4L270.7 672.2L274.5 671.5L277.7 673.6ZM284.2 683.1L282.1 686.3L278.3 687.0L275.1 684.9L274.4 681.1L276.5 677.9L280.3 677.2L283.5 679.3ZM264.1 692.4L262.0 695.6L258.2 696.3L255.0 694.2L254.3 690.4L256.4 687.2L260.2 686.5L263.4 688.6ZM275.6 698.1L273.5 701.3L269.7 702.0L266.5 699.9L265.8 696.1L267.9 692.9L271.7 692.2L274.9 694.3ZM246.2 704.6L244.1 707.8L240.3 708.5L237.1 706.4L236.4 702.6L238.5 699.4L242.3 698.7L245.5 700.8ZM264.8 703.9L262.7 707.1L258.9 707.8L255.7 705.7L255.0 701.9L257.1 698.7L260.9 698.0L264.1 700.1ZM263.4 711.8L261.3 715.0L257.5 715.7L254.3 713.6L253.6 709.8L255.7 706.6L259.5 705.9L262.7 708.0ZM272.0 711.8L269.9 715.0L266.1 715.7L262.9 713.6L262.2 709.8L264.3 706.6L268.1 705.9L271.3 708.0ZM282.7 705.3L280.6 708.5L276.8 709.2L273.6 707.1L272.9 703.3L275.0 700.1L278.8 699.4L282.0 701.5ZM246.2 717.5L244.1 720.7L240.3 721.4L237.1 719.3L236.4 715.5L238.5 712.3L242.3 711.6L245.5 713.7ZM246.2 721.8L244.1 725.0L240.3 725.7L237.1 723.6L236.4 719.8L238.5 716.6L242.3 715.9L245.5 718.0ZM270.6 720.4L268.5 723.6L264.7 724.3L261.5 722.2L260.8 718.4L262.9 715.2L266.7 714.5L269.9 716.6Z"/>
 </g>
</svg>
</body></html>
